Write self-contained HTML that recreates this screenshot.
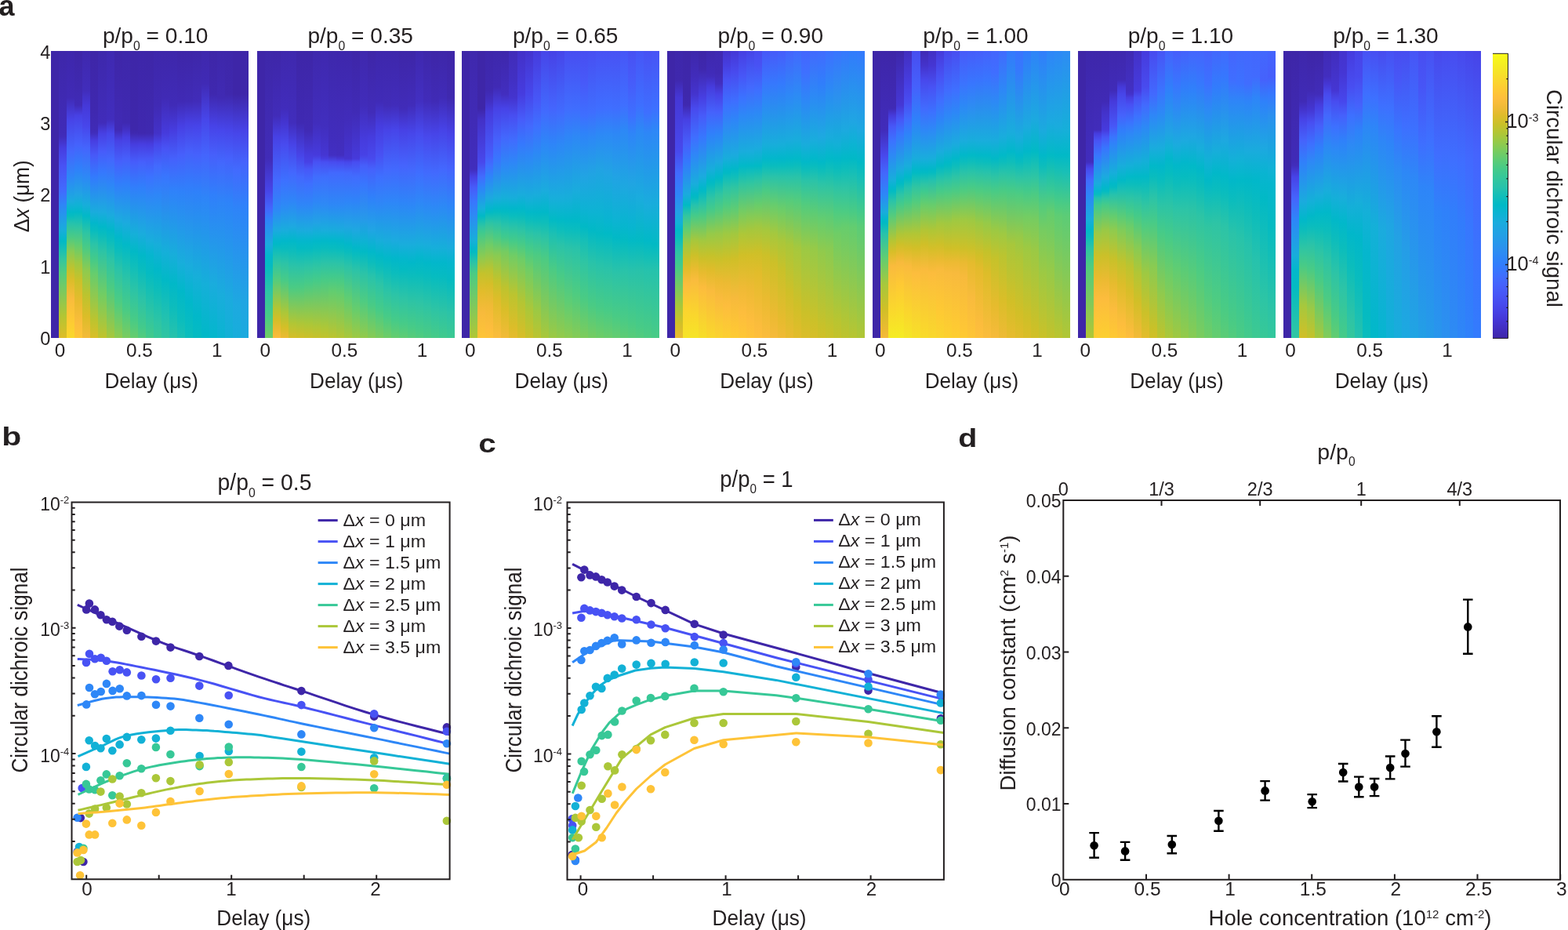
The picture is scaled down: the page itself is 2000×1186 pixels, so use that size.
<!DOCTYPE html>
<html><head><meta charset="utf-8"><title>Figure</title>
<style>
html,body{margin:0;padding:0;background:#fff;}
body{width:2000px;height:1186px;overflow:hidden;}
svg{display:block;}
svg text{font-family:'Liberation Sans', Arial, Helvetica, sans-serif;fill:#231f20;}
</style></head><body>
<svg width="2000" height="1186" viewBox="0 0 2000 1186">
<rect width="2000" height="1186" fill="#fff"/>
<defs><linearGradient id="g1" x1="0" y1="0" x2="0" y2="1"><stop offset="0.000" stop-color="#3e27aa"/><stop offset="0.287" stop-color="#402bb8"/><stop offset="0.300" stop-color="#412dbc"/><stop offset="0.338" stop-color="#463de0"/><stop offset="0.400" stop-color="#4852f4"/><stop offset="0.488" stop-color="#416bfe"/><stop offset="0.537" stop-color="#2e86f7"/><stop offset="0.625" stop-color="#18addb"/><stop offset="0.662" stop-color="#01b9c7"/><stop offset="0.688" stop-color="#14beb8"/><stop offset="0.725" stop-color="#31c6a0"/><stop offset="0.775" stop-color="#53cc7d"/><stop offset="0.925" stop-color="#b4c533"/><stop offset="0.988" stop-color="#d8be28"/><stop offset="1.000" stop-color="#debd29"/></linearGradient><linearGradient id="g2" x1="0" y1="0" x2="0" y2="1"><stop offset="0.000" stop-color="#3e27ac"/><stop offset="0.162" stop-color="#402ab5"/><stop offset="0.238" stop-color="#4743e7"/><stop offset="0.350" stop-color="#4367fd"/><stop offset="0.438" stop-color="#2e86f7"/><stop offset="0.525" stop-color="#1aacdd"/><stop offset="0.562" stop-color="#01b9c8"/><stop offset="0.575" stop-color="#07bcbf"/><stop offset="0.600" stop-color="#25c2ad"/><stop offset="0.650" stop-color="#4ccb83"/><stop offset="0.700" stop-color="#8acb52"/><stop offset="0.762" stop-color="#c2c22c"/><stop offset="0.800" stop-color="#dcbd29"/><stop offset="0.863" stop-color="#f9bb3d"/><stop offset="0.950" stop-color="#fdcc32"/><stop offset="1.000" stop-color="#f9d82c"/></linearGradient><linearGradient id="g3" x1="0" y1="0" x2="0" y2="1"><stop offset="0.000" stop-color="#3e26a8"/><stop offset="0.125" stop-color="#3f29b0"/><stop offset="0.188" stop-color="#402bb7"/><stop offset="0.225" stop-color="#4741e5"/><stop offset="0.325" stop-color="#4562fc"/><stop offset="0.412" stop-color="#2f81fa"/><stop offset="0.500" stop-color="#21a4e3"/><stop offset="0.537" stop-color="#10b2d5"/><stop offset="0.562" stop-color="#01b9c7"/><stop offset="0.588" stop-color="#18bfb6"/><stop offset="0.613" stop-color="#2ec5a4"/><stop offset="0.675" stop-color="#60cd72"/><stop offset="0.738" stop-color="#9ec942"/><stop offset="0.800" stop-color="#cac129"/><stop offset="0.875" stop-color="#e8bb2e"/><stop offset="0.950" stop-color="#fcbd3d"/><stop offset="1.000" stop-color="#fec636"/></linearGradient><linearGradient id="g4" x1="0" y1="0" x2="0" y2="1"><stop offset="0.000" stop-color="#3f28ae"/><stop offset="0.137" stop-color="#412dbb"/><stop offset="0.188" stop-color="#4538d8"/><stop offset="0.262" stop-color="#4746eb"/><stop offset="0.338" stop-color="#4465fd"/><stop offset="0.438" stop-color="#2d88f6"/><stop offset="0.537" stop-color="#17aeda"/><stop offset="0.575" stop-color="#01b9c7"/><stop offset="0.600" stop-color="#13beb8"/><stop offset="0.637" stop-color="#2fc5a2"/><stop offset="0.688" stop-color="#4bcb83"/><stop offset="0.762" stop-color="#8bcb51"/><stop offset="0.850" stop-color="#bbc42f"/><stop offset="0.925" stop-color="#dbbd28"/><stop offset="1.000" stop-color="#f4ba3a"/></linearGradient><linearGradient id="g5" x1="0" y1="0" x2="0" y2="1"><stop offset="0.000" stop-color="#3e26a8"/><stop offset="0.200" stop-color="#3f28af"/><stop offset="0.275" stop-color="#402bb6"/><stop offset="0.287" stop-color="#412ebd"/><stop offset="0.312" stop-color="#473ee1"/><stop offset="0.363" stop-color="#4759f8"/><stop offset="0.438" stop-color="#337afd"/><stop offset="0.562" stop-color="#19acdc"/><stop offset="0.600" stop-color="#02b7cb"/><stop offset="0.625" stop-color="#07bcc0"/><stop offset="0.675" stop-color="#2cc4a7"/><stop offset="0.725" stop-color="#43ca8a"/><stop offset="0.775" stop-color="#65cd6e"/><stop offset="0.938" stop-color="#bcc42f"/><stop offset="1.000" stop-color="#d9be28"/></linearGradient><linearGradient id="g6" x1="0" y1="0" x2="0" y2="1"><stop offset="0.000" stop-color="#3e28ac"/><stop offset="0.250" stop-color="#412cba"/><stop offset="0.287" stop-color="#4740e3"/><stop offset="0.350" stop-color="#475cfa"/><stop offset="0.425" stop-color="#3579fd"/><stop offset="0.562" stop-color="#1babde"/><stop offset="0.613" stop-color="#01b8c9"/><stop offset="0.637" stop-color="#08bcbf"/><stop offset="0.700" stop-color="#2dc4a5"/><stop offset="0.850" stop-color="#72cd63"/><stop offset="1.000" stop-color="#c1c32c"/></linearGradient><linearGradient id="g7" x1="0" y1="0" x2="0" y2="1"><stop offset="0.000" stop-color="#3f29b1"/><stop offset="0.238" stop-color="#412dbd"/><stop offset="0.287" stop-color="#4746ea"/><stop offset="0.375" stop-color="#4367fd"/><stop offset="0.463" stop-color="#2e85f8"/><stop offset="0.575" stop-color="#1aacdd"/><stop offset="0.625" stop-color="#01b8c9"/><stop offset="0.662" stop-color="#0bbdbd"/><stop offset="0.725" stop-color="#2cc4a7"/><stop offset="0.825" stop-color="#4ccb82"/><stop offset="1.000" stop-color="#a7c73c"/></linearGradient><linearGradient id="g8" x1="0" y1="0" x2="0" y2="1"><stop offset="0.000" stop-color="#3e26a8"/><stop offset="0.275" stop-color="#402ab5"/><stop offset="0.312" stop-color="#4741e4"/><stop offset="0.387" stop-color="#4561fc"/><stop offset="0.463" stop-color="#317efb"/><stop offset="0.588" stop-color="#1caadf"/><stop offset="0.650" stop-color="#01b8ca"/><stop offset="0.688" stop-color="#08bcbf"/><stop offset="0.762" stop-color="#2bc3a8"/><stop offset="0.875" stop-color="#4dcc82"/><stop offset="1.000" stop-color="#8fcb4e"/></linearGradient><linearGradient id="g9" x1="0" y1="0" x2="0" y2="1"><stop offset="0.000" stop-color="#3e27aa"/><stop offset="0.250" stop-color="#3f29b1"/><stop offset="0.275" stop-color="#4331c6"/><stop offset="0.300" stop-color="#473ee2"/><stop offset="0.375" stop-color="#465ffb"/><stop offset="0.463" stop-color="#307ffb"/><stop offset="0.600" stop-color="#1babde"/><stop offset="0.675" stop-color="#01b9c8"/><stop offset="0.725" stop-color="#11beba"/><stop offset="0.800" stop-color="#2dc4a5"/><stop offset="0.900" stop-color="#48cb86"/><stop offset="1.000" stop-color="#7acc5e"/></linearGradient><linearGradient id="g10" x1="0" y1="0" x2="0" y2="1"><stop offset="0.000" stop-color="#3e26a8"/><stop offset="0.275" stop-color="#3e27ab"/><stop offset="0.287" stop-color="#3f29b0"/><stop offset="0.325" stop-color="#463ddf"/><stop offset="0.387" stop-color="#465dfb"/><stop offset="0.475" stop-color="#317efb"/><stop offset="0.637" stop-color="#16afd9"/><stop offset="0.700" stop-color="#01b9c6"/><stop offset="0.750" stop-color="#0fbebb"/><stop offset="0.838" stop-color="#2dc4a5"/><stop offset="0.938" stop-color="#48cb86"/><stop offset="1.000" stop-color="#65cd6e"/></linearGradient><linearGradient id="g11" x1="0" y1="0" x2="0" y2="1"><stop offset="0.000" stop-color="#3e26a9"/><stop offset="0.287" stop-color="#3f28af"/><stop offset="0.325" stop-color="#473ee1"/><stop offset="0.387" stop-color="#4660fc"/><stop offset="0.475" stop-color="#307ffb"/><stop offset="0.637" stop-color="#1aacdd"/><stop offset="0.713" stop-color="#01b8c8"/><stop offset="0.762" stop-color="#09bcbe"/><stop offset="0.863" stop-color="#2bc3a8"/><stop offset="0.963" stop-color="#43ca8b"/><stop offset="1.000" stop-color="#53cc7d"/></linearGradient><linearGradient id="g12" x1="0" y1="0" x2="0" y2="1"><stop offset="0.000" stop-color="#3e26a8"/><stop offset="0.287" stop-color="#3f29b0"/><stop offset="0.325" stop-color="#463de0"/><stop offset="0.375" stop-color="#4759f8"/><stop offset="0.438" stop-color="#3b72ff"/><stop offset="0.512" stop-color="#2d88f6"/><stop offset="0.662" stop-color="#18aedb"/><stop offset="0.713" stop-color="#05b6ce"/><stop offset="0.775" stop-color="#04bbc2"/><stop offset="0.925" stop-color="#30c5a1"/><stop offset="1.000" stop-color="#42ca8b"/></linearGradient><linearGradient id="g13" x1="0" y1="0" x2="0" y2="1"><stop offset="0.000" stop-color="#3e27ab"/><stop offset="0.188" stop-color="#402ab4"/><stop offset="0.287" stop-color="#4332c8"/><stop offset="0.325" stop-color="#4747eb"/><stop offset="0.400" stop-color="#426afe"/><stop offset="0.500" stop-color="#2e86f8"/><stop offset="0.675" stop-color="#17aeda"/><stop offset="0.762" stop-color="#01b8c9"/><stop offset="0.825" stop-color="#0bbdbc"/><stop offset="0.950" stop-color="#2fc5a3"/><stop offset="1.000" stop-color="#37c897"/></linearGradient><linearGradient id="g14" x1="0" y1="0" x2="0" y2="1"><stop offset="0.000" stop-color="#3e27aa"/><stop offset="0.162" stop-color="#402ab5"/><stop offset="0.287" stop-color="#463bdd"/><stop offset="0.338" stop-color="#4853f5"/><stop offset="0.438" stop-color="#3876fe"/><stop offset="0.700" stop-color="#15afd9"/><stop offset="0.800" stop-color="#01b9c6"/><stop offset="0.925" stop-color="#21c1b0"/><stop offset="1.000" stop-color="#30c5a1"/></linearGradient><linearGradient id="g15" x1="0" y1="0" x2="0" y2="1"><stop offset="0.000" stop-color="#3e27ab"/><stop offset="0.188" stop-color="#402bb7"/><stop offset="0.275" stop-color="#463cdf"/><stop offset="0.375" stop-color="#4561fc"/><stop offset="0.488" stop-color="#2f82fa"/><stop offset="0.713" stop-color="#17aeda"/><stop offset="0.812" stop-color="#01b8c8"/><stop offset="0.900" stop-color="#0ebdbb"/><stop offset="1.000" stop-color="#28c2ab"/></linearGradient><linearGradient id="g16" x1="0" y1="0" x2="0" y2="1"><stop offset="0.000" stop-color="#3e26a8"/><stop offset="0.175" stop-color="#402ab5"/><stop offset="0.262" stop-color="#4740e4"/><stop offset="0.363" stop-color="#4660fc"/><stop offset="0.488" stop-color="#2f81fa"/><stop offset="0.738" stop-color="#18aedb"/><stop offset="0.838" stop-color="#01b8c9"/><stop offset="0.938" stop-color="#0bbdbd"/><stop offset="1.000" stop-color="#1bc0b4"/></linearGradient><linearGradient id="g17" x1="0" y1="0" x2="0" y2="1"><stop offset="0.000" stop-color="#3e26a8"/><stop offset="0.175" stop-color="#402bb6"/><stop offset="0.250" stop-color="#4740e3"/><stop offset="0.350" stop-color="#4660fb"/><stop offset="0.475" stop-color="#317efb"/><stop offset="0.750" stop-color="#19addc"/><stop offset="0.875" stop-color="#01b8ca"/><stop offset="0.988" stop-color="#0abdbd"/><stop offset="1.000" stop-color="#0dbdbc"/></linearGradient><linearGradient id="g18" x1="0" y1="0" x2="0" y2="1"><stop offset="0.000" stop-color="#3e27a9"/><stop offset="0.175" stop-color="#412cb9"/><stop offset="0.262" stop-color="#4744e9"/><stop offset="0.363" stop-color="#4562fc"/><stop offset="0.488" stop-color="#2f80fa"/><stop offset="0.787" stop-color="#16afd9"/><stop offset="0.925" stop-color="#01b8c9"/><stop offset="1.000" stop-color="#05bbc1"/></linearGradient><linearGradient id="g19" x1="0" y1="0" x2="0" y2="1"><stop offset="0.000" stop-color="#3f28ad"/><stop offset="0.113" stop-color="#402ab5"/><stop offset="0.238" stop-color="#4746ea"/><stop offset="0.363" stop-color="#4465fd"/><stop offset="0.512" stop-color="#2e85f8"/><stop offset="0.812" stop-color="#15afd9"/><stop offset="0.988" stop-color="#01b8c8"/><stop offset="1.000" stop-color="#01b9c7"/></linearGradient><linearGradient id="g20" x1="0" y1="0" x2="0" y2="1"><stop offset="0.000" stop-color="#3e26a8"/><stop offset="0.150" stop-color="#3f28af"/><stop offset="0.262" stop-color="#4743e8"/><stop offset="0.363" stop-color="#4660fb"/><stop offset="0.500" stop-color="#307ffb"/><stop offset="0.812" stop-color="#1aacdd"/><stop offset="1.000" stop-color="#03b7cc"/></linearGradient><linearGradient id="g21" x1="0" y1="0" x2="0" y2="1"><stop offset="0.000" stop-color="#3e27aa"/><stop offset="0.162" stop-color="#402ab3"/><stop offset="0.275" stop-color="#4746eb"/><stop offset="0.387" stop-color="#4367fd"/><stop offset="0.525" stop-color="#2e84f8"/><stop offset="0.850" stop-color="#19addc"/><stop offset="1.000" stop-color="#0ab4d1"/></linearGradient><linearGradient id="g22" x1="0" y1="0" x2="0" y2="1"><stop offset="0.000" stop-color="#3e27aa"/><stop offset="0.150" stop-color="#3f28ad"/><stop offset="0.275" stop-color="#4745e9"/><stop offset="0.375" stop-color="#4562fc"/><stop offset="0.525" stop-color="#2e83f9"/><stop offset="0.863" stop-color="#1babde"/><stop offset="1.000" stop-color="#12b1d6"/></linearGradient><linearGradient id="g23" x1="0" y1="0" x2="0" y2="1"><stop offset="0.000" stop-color="#3e26a8"/><stop offset="0.150" stop-color="#3e26a8"/><stop offset="0.287" stop-color="#4746ea"/><stop offset="0.412" stop-color="#426afe"/><stop offset="0.550" stop-color="#2e84f8"/><stop offset="0.887" stop-color="#1da9e0"/><stop offset="1.000" stop-color="#17aedb"/></linearGradient><linearGradient id="g24" x1="0" y1="0" x2="0" y2="1"><stop offset="0.000" stop-color="#3e26a8"/><stop offset="0.150" stop-color="#3e27aa"/><stop offset="0.275" stop-color="#4742e6"/><stop offset="0.387" stop-color="#4563fc"/><stop offset="0.537" stop-color="#2f81fa"/><stop offset="0.875" stop-color="#20a5e2"/><stop offset="1.000" stop-color="#1baade"/></linearGradient><linearGradient id="g25" x1="0" y1="0" x2="0" y2="1"><stop offset="0.000" stop-color="#3e27a9"/><stop offset="0.375" stop-color="#412cb8"/><stop offset="0.488" stop-color="#4745e9"/><stop offset="0.550" stop-color="#4366fd"/><stop offset="0.588" stop-color="#2f82f9"/><stop offset="0.675" stop-color="#1aacdd"/><stop offset="0.713" stop-color="#03b7cc"/><stop offset="0.750" stop-color="#05bbc1"/><stop offset="0.838" stop-color="#2dc4a6"/><stop offset="0.925" stop-color="#48cb86"/><stop offset="1.000" stop-color="#72cd64"/></linearGradient><linearGradient id="g26" x1="0" y1="0" x2="0" y2="1"><stop offset="0.000" stop-color="#3e26a8"/><stop offset="0.225" stop-color="#412cb9"/><stop offset="0.300" stop-color="#4741e5"/><stop offset="0.450" stop-color="#4369fe"/><stop offset="0.550" stop-color="#2e87f7"/><stop offset="0.625" stop-color="#1baadf"/><stop offset="0.662" stop-color="#03b7cc"/><stop offset="0.675" stop-color="#01b9c6"/><stop offset="0.738" stop-color="#2ec5a4"/><stop offset="0.800" stop-color="#56cc7b"/><stop offset="0.900" stop-color="#b5c533"/><stop offset="0.938" stop-color="#d4be28"/><stop offset="0.975" stop-color="#eeba34"/><stop offset="1.000" stop-color="#fbbc3d"/></linearGradient><linearGradient id="g27" x1="0" y1="0" x2="0" y2="1"><stop offset="0.000" stop-color="#3f28ad"/><stop offset="0.200" stop-color="#412cbb"/><stop offset="0.250" stop-color="#4435d1"/><stop offset="0.325" stop-color="#484bef"/><stop offset="0.450" stop-color="#3d70ff"/><stop offset="0.537" stop-color="#2d89f6"/><stop offset="0.625" stop-color="#19addc"/><stop offset="0.662" stop-color="#01b8ca"/><stop offset="0.688" stop-color="#08bcbf"/><stop offset="0.738" stop-color="#2bc3a8"/><stop offset="0.800" stop-color="#48cb87"/><stop offset="0.912" stop-color="#abc739"/><stop offset="0.963" stop-color="#d4bf27"/><stop offset="1.000" stop-color="#ecba33"/></linearGradient><linearGradient id="g28" x1="0" y1="0" x2="0" y2="1"><stop offset="0.000" stop-color="#3f28ae"/><stop offset="0.250" stop-color="#412dbc"/><stop offset="0.325" stop-color="#4743e7"/><stop offset="0.425" stop-color="#4368fe"/><stop offset="0.525" stop-color="#2e86f7"/><stop offset="0.613" stop-color="#1da9e0"/><stop offset="0.662" stop-color="#01b8c9"/><stop offset="0.700" stop-color="#0ebdbb"/><stop offset="0.750" stop-color="#2bc3a8"/><stop offset="0.825" stop-color="#4acb84"/><stop offset="0.950" stop-color="#b1c635"/><stop offset="1.000" stop-color="#d5be28"/></linearGradient><linearGradient id="g29" x1="0" y1="0" x2="0" y2="1"><stop offset="0.000" stop-color="#3e26a8"/><stop offset="0.250" stop-color="#3f29b2"/><stop offset="0.363" stop-color="#4744e8"/><stop offset="0.438" stop-color="#4368fe"/><stop offset="0.537" stop-color="#2e86f7"/><stop offset="0.625" stop-color="#1aabdd"/><stop offset="0.662" stop-color="#03b7cc"/><stop offset="0.688" stop-color="#03bbc2"/><stop offset="0.750" stop-color="#2ac3a9"/><stop offset="0.825" stop-color="#4bcb83"/><stop offset="0.950" stop-color="#adc638"/><stop offset="1.000" stop-color="#d1bf27"/></linearGradient><linearGradient id="g30" x1="0" y1="0" x2="0" y2="1"><stop offset="0.000" stop-color="#3e26a8"/><stop offset="0.275" stop-color="#402ab4"/><stop offset="0.363" stop-color="#463cde"/><stop offset="0.387" stop-color="#4742e6"/><stop offset="0.412" stop-color="#4758f8"/><stop offset="0.463" stop-color="#3e6fff"/><stop offset="0.537" stop-color="#2e86f7"/><stop offset="0.625" stop-color="#1babde"/><stop offset="0.662" stop-color="#03b7cc"/><stop offset="0.688" stop-color="#04bbc2"/><stop offset="0.750" stop-color="#2cc4a7"/><stop offset="0.812" stop-color="#48cb86"/><stop offset="0.950" stop-color="#aac739"/><stop offset="1.000" stop-color="#ccc028"/></linearGradient><linearGradient id="g31" x1="0" y1="0" x2="0" y2="1"><stop offset="0.000" stop-color="#3f28ad"/><stop offset="0.250" stop-color="#412dbc"/><stop offset="0.363" stop-color="#463bdd"/><stop offset="0.387" stop-color="#4852f4"/><stop offset="0.438" stop-color="#406dfe"/><stop offset="0.525" stop-color="#2e86f7"/><stop offset="0.600" stop-color="#21a3e4"/><stop offset="0.637" stop-color="#11b1d6"/><stop offset="0.662" stop-color="#01b8ca"/><stop offset="0.688" stop-color="#07bcc0"/><stop offset="0.750" stop-color="#2ec5a4"/><stop offset="0.800" stop-color="#45cb89"/><stop offset="0.963" stop-color="#b0c636"/><stop offset="1.000" stop-color="#c7c12a"/></linearGradient><linearGradient id="g32" x1="0" y1="0" x2="0" y2="1"><stop offset="0.000" stop-color="#3f28af"/><stop offset="0.262" stop-color="#412ebe"/><stop offset="0.363" stop-color="#4536d3"/><stop offset="0.375" stop-color="#463de0"/><stop offset="0.387" stop-color="#484ff2"/><stop offset="0.438" stop-color="#3f6efe"/><stop offset="0.537" stop-color="#2d8af5"/><stop offset="0.625" stop-color="#19addc"/><stop offset="0.662" stop-color="#01b8c9"/><stop offset="0.688" stop-color="#09bcbe"/><stop offset="0.738" stop-color="#2bc3a8"/><stop offset="0.800" stop-color="#49cb85"/><stop offset="0.963" stop-color="#acc738"/><stop offset="1.000" stop-color="#c1c32c"/></linearGradient><linearGradient id="g33" x1="0" y1="0" x2="0" y2="1"><stop offset="0.000" stop-color="#3e28ac"/><stop offset="0.312" stop-color="#412dbd"/><stop offset="0.363" stop-color="#422fc2"/><stop offset="0.387" stop-color="#484cef"/><stop offset="0.425" stop-color="#4269fe"/><stop offset="0.537" stop-color="#2d88f6"/><stop offset="0.625" stop-color="#19acdc"/><stop offset="0.662" stop-color="#01b8ca"/><stop offset="0.688" stop-color="#08bcbf"/><stop offset="0.738" stop-color="#2bc3a8"/><stop offset="0.787" stop-color="#42ca8c"/><stop offset="0.838" stop-color="#62cd70"/><stop offset="1.000" stop-color="#bcc42f"/></linearGradient><linearGradient id="g34" x1="0" y1="0" x2="0" y2="1"><stop offset="0.000" stop-color="#3e27ac"/><stop offset="0.363" stop-color="#422ebf"/><stop offset="0.375" stop-color="#4537d5"/><stop offset="0.387" stop-color="#484aee"/><stop offset="0.425" stop-color="#4269fe"/><stop offset="0.537" stop-color="#2d88f6"/><stop offset="0.625" stop-color="#1aabdd"/><stop offset="0.662" stop-color="#02b7cb"/><stop offset="0.688" stop-color="#06bcc0"/><stop offset="0.738" stop-color="#2ac3a9"/><stop offset="0.800" stop-color="#49cb85"/><stop offset="0.850" stop-color="#66cd6d"/><stop offset="1.000" stop-color="#b4c533"/></linearGradient><linearGradient id="g35" x1="0" y1="0" x2="0" y2="1"><stop offset="0.000" stop-color="#3e27ab"/><stop offset="0.238" stop-color="#412cba"/><stop offset="0.375" stop-color="#4434cf"/><stop offset="0.387" stop-color="#4747eb"/><stop offset="0.425" stop-color="#4368fd"/><stop offset="0.525" stop-color="#2e85f8"/><stop offset="0.613" stop-color="#20a5e2"/><stop offset="0.675" stop-color="#01b8c9"/><stop offset="0.700" stop-color="#09bcbe"/><stop offset="0.750" stop-color="#2bc3a8"/><stop offset="0.863" stop-color="#60cd72"/><stop offset="1.000" stop-color="#a9c73a"/></linearGradient><linearGradient id="g36" x1="0" y1="0" x2="0" y2="1"><stop offset="0.000" stop-color="#3e26a8"/><stop offset="0.213" stop-color="#402bb6"/><stop offset="0.375" stop-color="#463adb"/><stop offset="0.387" stop-color="#484df1"/><stop offset="0.438" stop-color="#416cfe"/><stop offset="0.525" stop-color="#2e84f8"/><stop offset="0.625" stop-color="#1ea8e0"/><stop offset="0.688" stop-color="#01b8c8"/><stop offset="0.713" stop-color="#0abdbd"/><stop offset="0.762" stop-color="#2bc3a8"/><stop offset="0.900" stop-color="#66cd6d"/><stop offset="1.000" stop-color="#9ec942"/></linearGradient><linearGradient id="g37" x1="0" y1="0" x2="0" y2="1"><stop offset="0.000" stop-color="#3f28ae"/><stop offset="0.188" stop-color="#412cba"/><stop offset="0.312" stop-color="#463cde"/><stop offset="0.363" stop-color="#4742e6"/><stop offset="0.400" stop-color="#465ffb"/><stop offset="0.463" stop-color="#3876fe"/><stop offset="0.588" stop-color="#269ae9"/><stop offset="0.662" stop-color="#0eb2d4"/><stop offset="0.700" stop-color="#01bac5"/><stop offset="0.775" stop-color="#2bc3a8"/><stop offset="0.875" stop-color="#4fcc81"/><stop offset="1.000" stop-color="#93ca4b"/></linearGradient><linearGradient id="g38" x1="0" y1="0" x2="0" y2="1"><stop offset="0.000" stop-color="#3e26a8"/><stop offset="0.213" stop-color="#412cb9"/><stop offset="0.300" stop-color="#463cde"/><stop offset="0.375" stop-color="#4849ed"/><stop offset="0.412" stop-color="#4562fc"/><stop offset="0.512" stop-color="#2f81fa"/><stop offset="0.625" stop-color="#20a5e3"/><stop offset="0.700" stop-color="#01b8ca"/><stop offset="0.738" stop-color="#0cbdbc"/><stop offset="0.787" stop-color="#29c3aa"/><stop offset="0.887" stop-color="#49cb85"/><stop offset="1.000" stop-color="#87cb54"/></linearGradient><linearGradient id="g39" x1="0" y1="0" x2="0" y2="1"><stop offset="0.000" stop-color="#3e27ac"/><stop offset="0.175" stop-color="#402bb7"/><stop offset="0.262" stop-color="#463de0"/><stop offset="0.363" stop-color="#4851f3"/><stop offset="0.438" stop-color="#3e6fff"/><stop offset="0.537" stop-color="#2d88f6"/><stop offset="0.662" stop-color="#17aeda"/><stop offset="0.713" stop-color="#01b8c8"/><stop offset="0.750" stop-color="#0bbdbc"/><stop offset="0.812" stop-color="#2cc4a7"/><stop offset="0.900" stop-color="#45cb89"/><stop offset="1.000" stop-color="#7bcc5d"/></linearGradient><linearGradient id="g40" x1="0" y1="0" x2="0" y2="1"><stop offset="0.000" stop-color="#3e27ac"/><stop offset="0.188" stop-color="#412cb8"/><stop offset="0.275" stop-color="#4743e7"/><stop offset="0.412" stop-color="#4369fe"/><stop offset="0.525" stop-color="#2e86f8"/><stop offset="0.662" stop-color="#19acdc"/><stop offset="0.725" stop-color="#01b9c8"/><stop offset="0.775" stop-color="#11beb9"/><stop offset="0.838" stop-color="#2cc4a6"/><stop offset="0.925" stop-color="#47cb87"/><stop offset="1.000" stop-color="#6fcd66"/></linearGradient><linearGradient id="g41" x1="0" y1="0" x2="0" y2="1"><stop offset="0.000" stop-color="#3e27ab"/><stop offset="0.188" stop-color="#412cba"/><stop offset="0.275" stop-color="#4745e9"/><stop offset="0.412" stop-color="#4269fe"/><stop offset="0.525" stop-color="#2e86f8"/><stop offset="0.662" stop-color="#1babde"/><stop offset="0.725" stop-color="#01b7ca"/><stop offset="0.775" stop-color="#0bbdbd"/><stop offset="0.850" stop-color="#2cc4a7"/><stop offset="0.938" stop-color="#45cb89"/><stop offset="1.000" stop-color="#65cd6e"/></linearGradient><linearGradient id="g42" x1="0" y1="0" x2="0" y2="1"><stop offset="0.000" stop-color="#3e26a8"/><stop offset="0.200" stop-color="#412cb9"/><stop offset="0.275" stop-color="#4741e5"/><stop offset="0.400" stop-color="#4564fd"/><stop offset="0.525" stop-color="#2e84f8"/><stop offset="0.675" stop-color="#19addc"/><stop offset="0.725" stop-color="#03b7cc"/><stop offset="0.762" stop-color="#04bbc2"/><stop offset="0.863" stop-color="#2dc4a6"/><stop offset="0.950" stop-color="#46cb88"/><stop offset="1.000" stop-color="#5fcd73"/></linearGradient><linearGradient id="g43" x1="0" y1="0" x2="0" y2="1"><stop offset="0.000" stop-color="#3e26a8"/><stop offset="0.188" stop-color="#412cba"/><stop offset="0.287" stop-color="#4746ea"/><stop offset="0.412" stop-color="#4368fd"/><stop offset="0.537" stop-color="#2d87f7"/><stop offset="0.675" stop-color="#19addc"/><stop offset="0.738" stop-color="#01b8c9"/><stop offset="0.787" stop-color="#0cbdbc"/><stop offset="0.875" stop-color="#2ec4a4"/><stop offset="0.963" stop-color="#47cb87"/><stop offset="1.000" stop-color="#58cc79"/></linearGradient><linearGradient id="g44" x1="0" y1="0" x2="0" y2="1"><stop offset="0.000" stop-color="#3f28af"/><stop offset="0.175" stop-color="#422fc1"/><stop offset="0.287" stop-color="#484aee"/><stop offset="0.425" stop-color="#3f6eff"/><stop offset="0.525" stop-color="#2e87f7"/><stop offset="0.675" stop-color="#18aedb"/><stop offset="0.725" stop-color="#02b7cb"/><stop offset="0.775" stop-color="#07bcbf"/><stop offset="0.875" stop-color="#2dc4a6"/><stop offset="0.975" stop-color="#47cb87"/><stop offset="1.000" stop-color="#52cc7e"/></linearGradient><linearGradient id="g45" x1="0" y1="0" x2="0" y2="1"><stop offset="0.000" stop-color="#3e27aa"/><stop offset="0.175" stop-color="#412cba"/><stop offset="0.300" stop-color="#4849ed"/><stop offset="0.425" stop-color="#416bfe"/><stop offset="0.537" stop-color="#2d88f6"/><stop offset="0.675" stop-color="#19addc"/><stop offset="0.738" stop-color="#01b8c9"/><stop offset="0.787" stop-color="#09bcbe"/><stop offset="0.887" stop-color="#2dc4a5"/><stop offset="1.000" stop-color="#4bcb83"/></linearGradient><linearGradient id="g46" x1="0" y1="0" x2="0" y2="1"><stop offset="0.000" stop-color="#3e26a8"/><stop offset="0.175" stop-color="#402bb6"/><stop offset="0.287" stop-color="#4744e8"/><stop offset="0.425" stop-color="#426afe"/><stop offset="0.537" stop-color="#2e87f7"/><stop offset="0.688" stop-color="#16afda"/><stop offset="0.738" stop-color="#02b7cb"/><stop offset="0.787" stop-color="#06bcc0"/><stop offset="0.900" stop-color="#2dc4a5"/><stop offset="1.000" stop-color="#46cb88"/></linearGradient><linearGradient id="g47" x1="0" y1="0" x2="0" y2="1"><stop offset="0.000" stop-color="#3e27a9"/><stop offset="0.162" stop-color="#402bb7"/><stop offset="0.275" stop-color="#4743e7"/><stop offset="0.412" stop-color="#4368fe"/><stop offset="0.537" stop-color="#2d88f6"/><stop offset="0.688" stop-color="#16afd9"/><stop offset="0.738" stop-color="#02b7cb"/><stop offset="0.787" stop-color="#06bbc1"/><stop offset="0.912" stop-color="#2ec4a4"/><stop offset="1.000" stop-color="#40ca8d"/></linearGradient><linearGradient id="g48" x1="0" y1="0" x2="0" y2="1"><stop offset="0.000" stop-color="#3e26a8"/><stop offset="0.162" stop-color="#3f29af"/><stop offset="0.287" stop-color="#4742e6"/><stop offset="0.412" stop-color="#4464fd"/><stop offset="0.537" stop-color="#2e85f8"/><stop offset="0.688" stop-color="#19addb"/><stop offset="0.738" stop-color="#05b6cd"/><stop offset="0.800" stop-color="#05bbc1"/><stop offset="0.912" stop-color="#2bc3a8"/><stop offset="1.000" stop-color="#3cc992"/></linearGradient><linearGradient id="g49" x1="0" y1="0" x2="0" y2="1"><stop offset="0.000" stop-color="#3f28ad"/><stop offset="0.412" stop-color="#412dbc"/><stop offset="0.438" stop-color="#473fe3"/><stop offset="0.475" stop-color="#475bf9"/><stop offset="0.525" stop-color="#3876fe"/><stop offset="0.575" stop-color="#2d8af4"/><stop offset="0.662" stop-color="#16afd9"/><stop offset="0.688" stop-color="#04b6cc"/><stop offset="0.700" stop-color="#02bac4"/><stop offset="0.738" stop-color="#2bc3a7"/><stop offset="0.775" stop-color="#4acb85"/><stop offset="1.000" stop-color="#b1c636"/></linearGradient><linearGradient id="g50" x1="0" y1="0" x2="0" y2="1"><stop offset="0.000" stop-color="#3e26a8"/><stop offset="0.200" stop-color="#3e26a8"/><stop offset="0.238" stop-color="#4331c7"/><stop offset="0.387" stop-color="#4848ec"/><stop offset="0.438" stop-color="#416cfe"/><stop offset="0.475" stop-color="#2e84f9"/><stop offset="0.550" stop-color="#16afda"/><stop offset="0.575" stop-color="#01b9c6"/><stop offset="0.613" stop-color="#30c5a1"/><stop offset="0.637" stop-color="#42ca8b"/><stop offset="0.713" stop-color="#87cb54"/><stop offset="0.775" stop-color="#c4c22b"/><stop offset="0.838" stop-color="#e2bc2b"/><stop offset="0.912" stop-color="#f7ba3c"/><stop offset="1.000" stop-color="#fec438"/></linearGradient><linearGradient id="g51" x1="0" y1="0" x2="0" y2="1"><stop offset="0.000" stop-color="#3e27ab"/><stop offset="0.137" stop-color="#3f29b1"/><stop offset="0.175" stop-color="#4230c3"/><stop offset="0.213" stop-color="#463cde"/><stop offset="0.363" stop-color="#475cfa"/><stop offset="0.400" stop-color="#3f6fff"/><stop offset="0.438" stop-color="#2e84f9"/><stop offset="0.512" stop-color="#1da8e0"/><stop offset="0.550" stop-color="#04b6cd"/><stop offset="0.562" stop-color="#02bac4"/><stop offset="0.600" stop-color="#2ec4a4"/><stop offset="0.675" stop-color="#6ecd67"/><stop offset="0.762" stop-color="#bac430"/><stop offset="0.812" stop-color="#d6be28"/><stop offset="0.887" stop-color="#f0ba36"/><stop offset="0.963" stop-color="#fdbd3d"/><stop offset="1.000" stop-color="#fec239"/></linearGradient><linearGradient id="g52" x1="0" y1="0" x2="0" y2="1"><stop offset="0.000" stop-color="#3e28ac"/><stop offset="0.125" stop-color="#402ab5"/><stop offset="0.200" stop-color="#4742e6"/><stop offset="0.312" stop-color="#4562fc"/><stop offset="0.375" stop-color="#3975fe"/><stop offset="0.512" stop-color="#19addc"/><stop offset="0.550" stop-color="#01b8c9"/><stop offset="0.562" stop-color="#05bbc1"/><stop offset="0.600" stop-color="#2bc3a8"/><stop offset="0.650" stop-color="#4ccb83"/><stop offset="0.713" stop-color="#89cb52"/><stop offset="0.800" stop-color="#c1c32c"/><stop offset="0.863" stop-color="#ddbd29"/><stop offset="1.000" stop-color="#fbbc3d"/></linearGradient><linearGradient id="g53" x1="0" y1="0" x2="0" y2="1"><stop offset="0.000" stop-color="#3e27ab"/><stop offset="0.150" stop-color="#422ebf"/><stop offset="0.200" stop-color="#4743e8"/><stop offset="0.300" stop-color="#4367fd"/><stop offset="0.400" stop-color="#2d88f6"/><stop offset="0.512" stop-color="#16afd9"/><stop offset="0.550" stop-color="#01b8c9"/><stop offset="0.562" stop-color="#03bbc2"/><stop offset="0.613" stop-color="#2dc4a6"/><stop offset="0.650" stop-color="#41ca8c"/><stop offset="0.700" stop-color="#75cc61"/><stop offset="0.825" stop-color="#bec32e"/><stop offset="0.900" stop-color="#d9be28"/><stop offset="1.000" stop-color="#f2ba37"/></linearGradient><linearGradient id="g54" x1="0" y1="0" x2="0" y2="1"><stop offset="0.000" stop-color="#412cb9"/><stop offset="0.100" stop-color="#4230c3"/><stop offset="0.162" stop-color="#4434ce"/><stop offset="0.225" stop-color="#484ef1"/><stop offset="0.312" stop-color="#406dfe"/><stop offset="0.387" stop-color="#2e86f7"/><stop offset="0.512" stop-color="#17aeda"/><stop offset="0.550" stop-color="#01b7ca"/><stop offset="0.575" stop-color="#09bdbe"/><stop offset="0.613" stop-color="#29c3a9"/><stop offset="0.662" stop-color="#44cb89"/><stop offset="0.713" stop-color="#70cd65"/><stop offset="0.850" stop-color="#bcc42f"/><stop offset="0.963" stop-color="#dcbd29"/><stop offset="1.000" stop-color="#e6bb2d"/></linearGradient><linearGradient id="g55" x1="0" y1="0" x2="0" y2="1"><stop offset="0.000" stop-color="#4331c8"/><stop offset="0.150" stop-color="#463cdf"/><stop offset="0.238" stop-color="#475cfa"/><stop offset="0.325" stop-color="#3579fd"/><stop offset="0.500" stop-color="#19acdc"/><stop offset="0.550" stop-color="#01b8ca"/><stop offset="0.575" stop-color="#09bcbe"/><stop offset="0.625" stop-color="#2dc4a5"/><stop offset="0.675" stop-color="#48cb86"/><stop offset="0.725" stop-color="#6dcd67"/><stop offset="0.875" stop-color="#b4c533"/><stop offset="0.988" stop-color="#d5be28"/><stop offset="1.000" stop-color="#d9be28"/></linearGradient><linearGradient id="g56" x1="0" y1="0" x2="0" y2="1"><stop offset="0.000" stop-color="#4434cf"/><stop offset="0.150" stop-color="#4747eb"/><stop offset="0.262" stop-color="#4369fe"/><stop offset="0.363" stop-color="#2e86f7"/><stop offset="0.512" stop-color="#17aeda"/><stop offset="0.562" stop-color="#01b9c8"/><stop offset="0.588" stop-color="#0bbdbd"/><stop offset="0.637" stop-color="#2dc4a5"/><stop offset="0.688" stop-color="#45cb89"/><stop offset="0.762" stop-color="#70cd65"/><stop offset="0.900" stop-color="#abc739"/><stop offset="1.000" stop-color="#cac129"/></linearGradient><linearGradient id="g57" x1="0" y1="0" x2="0" y2="1"><stop offset="0.000" stop-color="#463bdd"/><stop offset="0.175" stop-color="#4758f8"/><stop offset="0.262" stop-color="#3e70ff"/><stop offset="0.350" stop-color="#2d87f6"/><stop offset="0.500" stop-color="#19acdc"/><stop offset="0.562" stop-color="#01b8c8"/><stop offset="0.588" stop-color="#09bcbe"/><stop offset="0.637" stop-color="#2ac3a9"/><stop offset="0.713" stop-color="#4dcb82"/><stop offset="0.900" stop-color="#9ac945"/><stop offset="1.000" stop-color="#bbc430"/></linearGradient><linearGradient id="g58" x1="0" y1="0" x2="0" y2="1"><stop offset="0.000" stop-color="#4745e9"/><stop offset="0.213" stop-color="#416bfe"/><stop offset="0.325" stop-color="#2d87f7"/><stop offset="0.488" stop-color="#1aacdd"/><stop offset="0.562" stop-color="#01b8c8"/><stop offset="0.600" stop-color="#0fbeba"/><stop offset="0.650" stop-color="#2cc4a6"/><stop offset="0.725" stop-color="#4ccb83"/><stop offset="1.000" stop-color="#aac73a"/></linearGradient><linearGradient id="g59" x1="0" y1="0" x2="0" y2="1"><stop offset="0.000" stop-color="#4742e6"/><stop offset="0.200" stop-color="#4465fd"/><stop offset="0.325" stop-color="#2e85f8"/><stop offset="0.512" stop-color="#18aedb"/><stop offset="0.588" stop-color="#01bac5"/><stop offset="0.637" stop-color="#1cc0b3"/><stop offset="0.762" stop-color="#4bcb84"/><stop offset="1.000" stop-color="#9cc944"/></linearGradient><linearGradient id="g60" x1="0" y1="0" x2="0" y2="1"><stop offset="0.000" stop-color="#4746ea"/><stop offset="0.213" stop-color="#416bfe"/><stop offset="0.325" stop-color="#2d88f6"/><stop offset="0.512" stop-color="#18aedb"/><stop offset="0.588" stop-color="#01b9c7"/><stop offset="0.625" stop-color="#0ebebb"/><stop offset="0.675" stop-color="#2ac3a9"/><stop offset="0.787" stop-color="#4acb85"/><stop offset="1.000" stop-color="#94ca4a"/></linearGradient><linearGradient id="g61" x1="0" y1="0" x2="0" y2="1"><stop offset="0.000" stop-color="#484ef1"/><stop offset="0.200" stop-color="#406dfe"/><stop offset="0.300" stop-color="#2e86f7"/><stop offset="0.512" stop-color="#17aeda"/><stop offset="0.588" stop-color="#01b8c8"/><stop offset="0.625" stop-color="#0bbdbd"/><stop offset="0.688" stop-color="#2bc3a8"/><stop offset="0.875" stop-color="#5ecd74"/><stop offset="1.000" stop-color="#8dcb4f"/></linearGradient><linearGradient id="g62" x1="0" y1="0" x2="0" y2="1"><stop offset="0.000" stop-color="#484ef1"/><stop offset="0.200" stop-color="#3f6dfe"/><stop offset="0.300" stop-color="#2d89f5"/><stop offset="0.488" stop-color="#19acdc"/><stop offset="0.588" stop-color="#01b8c8"/><stop offset="0.625" stop-color="#0abdbe"/><stop offset="0.688" stop-color="#29c3aa"/><stop offset="0.850" stop-color="#4fcc80"/><stop offset="1.000" stop-color="#85cb55"/></linearGradient><linearGradient id="g63" x1="0" y1="0" x2="0" y2="1"><stop offset="0.000" stop-color="#484ef1"/><stop offset="0.113" stop-color="#475af9"/><stop offset="0.225" stop-color="#3e6fff"/><stop offset="0.287" stop-color="#2e83f9"/><stop offset="0.438" stop-color="#21a4e3"/><stop offset="0.550" stop-color="#0eb2d4"/><stop offset="0.613" stop-color="#01b9c6"/><stop offset="0.662" stop-color="#16bfb7"/><stop offset="0.738" stop-color="#2fc5a3"/><stop offset="0.863" stop-color="#4acb84"/><stop offset="1.000" stop-color="#7dcc5b"/></linearGradient><linearGradient id="g64" x1="0" y1="0" x2="0" y2="1"><stop offset="0.000" stop-color="#484ff2"/><stop offset="0.213" stop-color="#3f6efe"/><stop offset="0.300" stop-color="#2d88f6"/><stop offset="0.425" stop-color="#21a3e3"/><stop offset="0.562" stop-color="#0db3d3"/><stop offset="0.625" stop-color="#01b9c6"/><stop offset="0.738" stop-color="#29c3a9"/><stop offset="0.887" stop-color="#4acb84"/><stop offset="1.000" stop-color="#75cc61"/></linearGradient><linearGradient id="g65" x1="0" y1="0" x2="0" y2="1"><stop offset="0.000" stop-color="#4852f4"/><stop offset="0.200" stop-color="#3f6eff"/><stop offset="0.287" stop-color="#2d88f6"/><stop offset="0.412" stop-color="#21a3e3"/><stop offset="0.562" stop-color="#0db3d3"/><stop offset="0.637" stop-color="#02bac4"/><stop offset="0.750" stop-color="#29c3a9"/><stop offset="0.900" stop-color="#49cb85"/><stop offset="1.000" stop-color="#6ecd66"/></linearGradient><linearGradient id="g66" x1="0" y1="0" x2="0" y2="1"><stop offset="0.000" stop-color="#4852f4"/><stop offset="0.200" stop-color="#3f6fff"/><stop offset="0.287" stop-color="#2d89f6"/><stop offset="0.425" stop-color="#21a4e3"/><stop offset="0.588" stop-color="#09b4d1"/><stop offset="0.637" stop-color="#01bac6"/><stop offset="0.762" stop-color="#2bc3a8"/><stop offset="0.900" stop-color="#46cb88"/><stop offset="1.000" stop-color="#69cd6b"/></linearGradient><linearGradient id="g67" x1="0" y1="0" x2="0" y2="1"><stop offset="0.000" stop-color="#4852f4"/><stop offset="0.200" stop-color="#3f6efe"/><stop offset="0.287" stop-color="#2d87f6"/><stop offset="0.438" stop-color="#21a3e4"/><stop offset="0.588" stop-color="#0db3d3"/><stop offset="0.650" stop-color="#01b9c6"/><stop offset="0.775" stop-color="#2bc3a8"/><stop offset="0.925" stop-color="#49cb85"/><stop offset="1.000" stop-color="#63cd70"/></linearGradient><linearGradient id="g68" x1="0" y1="0" x2="0" y2="1"><stop offset="0.000" stop-color="#4756f7"/><stop offset="0.188" stop-color="#3f6fff"/><stop offset="0.275" stop-color="#2d88f6"/><stop offset="0.475" stop-color="#1da8e0"/><stop offset="0.613" stop-color="#06b6ce"/><stop offset="0.662" stop-color="#03bbc2"/><stop offset="0.762" stop-color="#28c3aa"/><stop offset="0.938" stop-color="#4acb85"/><stop offset="1.000" stop-color="#5dcc74"/></linearGradient><linearGradient id="g69" x1="0" y1="0" x2="0" y2="1"><stop offset="0.000" stop-color="#4851f3"/><stop offset="0.113" stop-color="#465dfa"/><stop offset="0.225" stop-color="#3d70ff"/><stop offset="0.287" stop-color="#2e85f8"/><stop offset="0.463" stop-color="#20a5e2"/><stop offset="0.613" stop-color="#08b5d0"/><stop offset="0.662" stop-color="#02bac5"/><stop offset="0.762" stop-color="#27c2ac"/><stop offset="0.950" stop-color="#49cb85"/><stop offset="1.000" stop-color="#58cc79"/></linearGradient><linearGradient id="g70" x1="0" y1="0" x2="0" y2="1"><stop offset="0.000" stop-color="#4756f7"/><stop offset="0.188" stop-color="#3e6fff"/><stop offset="0.275" stop-color="#2d88f6"/><stop offset="0.512" stop-color="#1aacdd"/><stop offset="0.662" stop-color="#02bac4"/><stop offset="0.762" stop-color="#27c2ab"/><stop offset="0.963" stop-color="#48cb86"/><stop offset="1.000" stop-color="#53cc7d"/></linearGradient><linearGradient id="g71" x1="0" y1="0" x2="0" y2="1"><stop offset="0.000" stop-color="#4852f4"/><stop offset="0.213" stop-color="#3e6fff"/><stop offset="0.287" stop-color="#2d87f6"/><stop offset="0.537" stop-color="#19addc"/><stop offset="0.662" stop-color="#01b9c7"/><stop offset="0.713" stop-color="#11beb9"/><stop offset="0.762" stop-color="#25c2ad"/><stop offset="0.988" stop-color="#4acb84"/><stop offset="1.000" stop-color="#4dcc82"/></linearGradient><linearGradient id="g72" x1="0" y1="0" x2="0" y2="1"><stop offset="0.000" stop-color="#4854f5"/><stop offset="0.200" stop-color="#3d70ff"/><stop offset="0.275" stop-color="#2e87f7"/><stop offset="0.537" stop-color="#18addb"/><stop offset="0.675" stop-color="#02bac4"/><stop offset="0.762" stop-color="#25c2ad"/><stop offset="1.000" stop-color="#48cb86"/></linearGradient><linearGradient id="g73" x1="0" y1="0" x2="0" y2="1"><stop offset="0.000" stop-color="#3e27ab"/><stop offset="0.100" stop-color="#3f28ad"/><stop offset="0.162" stop-color="#4537d6"/><stop offset="0.350" stop-color="#4849ed"/><stop offset="0.425" stop-color="#416bfe"/><stop offset="0.500" stop-color="#2e85f8"/><stop offset="0.562" stop-color="#23a0e5"/><stop offset="0.600" stop-color="#12b1d7"/><stop offset="0.625" stop-color="#01b8c9"/><stop offset="0.650" stop-color="#09bdbe"/><stop offset="0.700" stop-color="#2dc4a6"/><stop offset="0.750" stop-color="#44cb8a"/><stop offset="0.887" stop-color="#a6c73c"/><stop offset="0.950" stop-color="#d0c028"/><stop offset="1.000" stop-color="#eaba31"/></linearGradient><linearGradient id="g74" x1="0" y1="0" x2="0" y2="1"><stop offset="0.000" stop-color="#3e26a8"/><stop offset="0.150" stop-color="#3e28ac"/><stop offset="0.188" stop-color="#3f29b0"/><stop offset="0.238" stop-color="#4740e3"/><stop offset="0.325" stop-color="#4660fb"/><stop offset="0.387" stop-color="#3479fd"/><stop offset="0.500" stop-color="#1aabdd"/><stop offset="0.537" stop-color="#02bac4"/><stop offset="0.575" stop-color="#32c69f"/><stop offset="0.625" stop-color="#64cd6f"/><stop offset="0.675" stop-color="#a1c840"/><stop offset="0.725" stop-color="#c9c129"/><stop offset="0.762" stop-color="#e2bc2b"/><stop offset="0.812" stop-color="#fbbc3d"/><stop offset="0.900" stop-color="#fbd32e"/><stop offset="1.000" stop-color="#f6e427"/></linearGradient><linearGradient id="g75" x1="0" y1="0" x2="0" y2="1"><stop offset="0.000" stop-color="#3e27ab"/><stop offset="0.088" stop-color="#412cbb"/><stop offset="0.150" stop-color="#4434ce"/><stop offset="0.200" stop-color="#484aee"/><stop offset="0.300" stop-color="#3f6eff"/><stop offset="0.363" stop-color="#2e87f7"/><stop offset="0.463" stop-color="#19addc"/><stop offset="0.500" stop-color="#01b8c8"/><stop offset="0.512" stop-color="#04bbc1"/><stop offset="0.537" stop-color="#26c2ad"/><stop offset="0.575" stop-color="#46cb88"/><stop offset="0.662" stop-color="#a8c73b"/><stop offset="0.713" stop-color="#cdc028"/><stop offset="0.762" stop-color="#eabb30"/><stop offset="0.800" stop-color="#fabc3d"/><stop offset="0.925" stop-color="#fad72c"/><stop offset="1.000" stop-color="#f6e427"/></linearGradient><linearGradient id="g76" x1="0" y1="0" x2="0" y2="1"><stop offset="0.000" stop-color="#3e26a8"/><stop offset="0.062" stop-color="#3f28ae"/><stop offset="0.162" stop-color="#473fe2"/><stop offset="0.225" stop-color="#475bf9"/><stop offset="0.300" stop-color="#3777fe"/><stop offset="0.438" stop-color="#1babde"/><stop offset="0.475" stop-color="#03b7cc"/><stop offset="0.488" stop-color="#02bac5"/><stop offset="0.537" stop-color="#2dc4a5"/><stop offset="0.575" stop-color="#4acb84"/><stop offset="0.662" stop-color="#a3c83f"/><stop offset="0.725" stop-color="#cdc028"/><stop offset="0.775" stop-color="#e8bb2f"/><stop offset="0.825" stop-color="#fcbc3d"/><stop offset="1.000" stop-color="#f7de29"/></linearGradient><linearGradient id="g77" x1="0" y1="0" x2="0" y2="1"><stop offset="0.000" stop-color="#3f28ad"/><stop offset="0.075" stop-color="#402bb8"/><stop offset="0.088" stop-color="#412dbc"/><stop offset="0.125" stop-color="#463cde"/><stop offset="0.213" stop-color="#4562fc"/><stop offset="0.287" stop-color="#3080fb"/><stop offset="0.412" stop-color="#18addb"/><stop offset="0.450" stop-color="#01b8c9"/><stop offset="0.463" stop-color="#03bbc2"/><stop offset="0.512" stop-color="#2ec4a5"/><stop offset="0.550" stop-color="#42ca8c"/><stop offset="0.637" stop-color="#95ca49"/><stop offset="0.713" stop-color="#c5c22a"/><stop offset="0.762" stop-color="#dfbc2a"/><stop offset="0.838" stop-color="#fabb3d"/><stop offset="0.988" stop-color="#fad52d"/><stop offset="1.000" stop-color="#f9d82c"/></linearGradient><linearGradient id="g78" x1="0" y1="0" x2="0" y2="1"><stop offset="0.000" stop-color="#3f29b2"/><stop offset="0.075" stop-color="#402ab4"/><stop offset="0.113" stop-color="#422fc0"/><stop offset="0.150" stop-color="#4742e6"/><stop offset="0.213" stop-color="#4561fc"/><stop offset="0.287" stop-color="#2e83f9"/><stop offset="0.387" stop-color="#1ca9df"/><stop offset="0.438" stop-color="#01b8c9"/><stop offset="0.450" stop-color="#04bbc1"/><stop offset="0.500" stop-color="#30c5a2"/><stop offset="0.550" stop-color="#4ccb83"/><stop offset="0.637" stop-color="#98c947"/><stop offset="0.725" stop-color="#cac129"/><stop offset="0.800" stop-color="#ebba31"/><stop offset="0.863" stop-color="#fabb3d"/><stop offset="1.000" stop-color="#fbd32f"/></linearGradient><linearGradient id="g79" x1="0" y1="0" x2="0" y2="1"><stop offset="0.000" stop-color="#4433cc"/><stop offset="0.050" stop-color="#463ee0"/><stop offset="0.100" stop-color="#4851f4"/><stop offset="0.188" stop-color="#3c71ff"/><stop offset="0.262" stop-color="#2d8af4"/><stop offset="0.375" stop-color="#18addb"/><stop offset="0.412" stop-color="#02b7cb"/><stop offset="0.425" stop-color="#02bac4"/><stop offset="0.475" stop-color="#2cc4a7"/><stop offset="0.537" stop-color="#4dcc82"/><stop offset="0.637" stop-color="#9ec942"/><stop offset="0.725" stop-color="#cdc028"/><stop offset="0.812" stop-color="#edba33"/><stop offset="0.887" stop-color="#fdbd3d"/><stop offset="1.000" stop-color="#fccf31"/></linearGradient><linearGradient id="g80" x1="0" y1="0" x2="0" y2="1"><stop offset="0.000" stop-color="#4537d6"/><stop offset="0.075" stop-color="#484bef"/><stop offset="0.175" stop-color="#3e6fff"/><stop offset="0.238" stop-color="#2e85f8"/><stop offset="0.363" stop-color="#1babde"/><stop offset="0.412" stop-color="#01b8c8"/><stop offset="0.438" stop-color="#10beba"/><stop offset="0.475" stop-color="#2fc5a2"/><stop offset="0.550" stop-color="#5dcc75"/><stop offset="0.637" stop-color="#a2c83f"/><stop offset="0.725" stop-color="#d0bf27"/><stop offset="0.863" stop-color="#f7ba3c"/><stop offset="0.975" stop-color="#fec735"/><stop offset="1.000" stop-color="#fdcb33"/></linearGradient><linearGradient id="g81" x1="0" y1="0" x2="0" y2="1"><stop offset="0.000" stop-color="#473fe2"/><stop offset="0.088" stop-color="#4757f7"/><stop offset="0.162" stop-color="#3b72ff"/><stop offset="0.225" stop-color="#2d88f6"/><stop offset="0.350" stop-color="#19acdc"/><stop offset="0.400" stop-color="#01b9c8"/><stop offset="0.425" stop-color="#11beb9"/><stop offset="0.463" stop-color="#30c5a1"/><stop offset="0.562" stop-color="#76cc61"/><stop offset="0.637" stop-color="#adc738"/><stop offset="0.713" stop-color="#d1bf27"/><stop offset="0.825" stop-color="#efba35"/><stop offset="0.912" stop-color="#fdbd3d"/><stop offset="1.000" stop-color="#fec736"/></linearGradient><linearGradient id="g82" x1="0" y1="0" x2="0" y2="1"><stop offset="0.000" stop-color="#4744e8"/><stop offset="0.125" stop-color="#4369fe"/><stop offset="0.213" stop-color="#2e86f7"/><stop offset="0.350" stop-color="#19addc"/><stop offset="0.400" stop-color="#01b9c7"/><stop offset="0.425" stop-color="#15bfb8"/><stop offset="0.463" stop-color="#32c69f"/><stop offset="0.575" stop-color="#84cb56"/><stop offset="0.625" stop-color="#a7c73c"/><stop offset="0.713" stop-color="#d2bf27"/><stop offset="0.825" stop-color="#edba33"/><stop offset="0.938" stop-color="#fdbd3d"/><stop offset="1.000" stop-color="#fec338"/></linearGradient><linearGradient id="g83" x1="0" y1="0" x2="0" y2="1"><stop offset="0.000" stop-color="#484bef"/><stop offset="0.050" stop-color="#4852f4"/><stop offset="0.137" stop-color="#3e6fff"/><stop offset="0.213" stop-color="#2d88f6"/><stop offset="0.338" stop-color="#1babde"/><stop offset="0.400" stop-color="#01bac5"/><stop offset="0.450" stop-color="#2dc4a5"/><stop offset="0.537" stop-color="#69cd6a"/><stop offset="0.613" stop-color="#a2c840"/><stop offset="0.700" stop-color="#cdc028"/><stop offset="0.775" stop-color="#e2bc2b"/><stop offset="0.963" stop-color="#fcbc3d"/><stop offset="1.000" stop-color="#febf3b"/></linearGradient><linearGradient id="g84" x1="0" y1="0" x2="0" y2="1"><stop offset="0.000" stop-color="#4758f8"/><stop offset="0.100" stop-color="#3b73fe"/><stop offset="0.175" stop-color="#2d88f6"/><stop offset="0.325" stop-color="#18addb"/><stop offset="0.375" stop-color="#02b7cb"/><stop offset="0.400" stop-color="#0abdbe"/><stop offset="0.438" stop-color="#2bc3a7"/><stop offset="0.488" stop-color="#4bcb84"/><stop offset="0.625" stop-color="#a6c83d"/><stop offset="0.713" stop-color="#cdc028"/><stop offset="0.863" stop-color="#eabb30"/><stop offset="1.000" stop-color="#fbbc3d"/></linearGradient><linearGradient id="g85" x1="0" y1="0" x2="0" y2="1"><stop offset="0.000" stop-color="#475bf9"/><stop offset="0.113" stop-color="#3678fd"/><stop offset="0.325" stop-color="#18addb"/><stop offset="0.375" stop-color="#02b7cb"/><stop offset="0.400" stop-color="#09bcbe"/><stop offset="0.438" stop-color="#2ac3a9"/><stop offset="0.537" stop-color="#67cd6d"/><stop offset="0.637" stop-color="#a5c83e"/><stop offset="0.738" stop-color="#cdc028"/><stop offset="0.925" stop-color="#ecba32"/><stop offset="1.000" stop-color="#f6ba3b"/></linearGradient><linearGradient id="g86" x1="0" y1="0" x2="0" y2="1"><stop offset="0.000" stop-color="#465efb"/><stop offset="0.113" stop-color="#347afd"/><stop offset="0.325" stop-color="#17aeda"/><stop offset="0.375" stop-color="#01b7ca"/><stop offset="0.400" stop-color="#09bdbe"/><stop offset="0.438" stop-color="#29c3a9"/><stop offset="0.550" stop-color="#6acd6a"/><stop offset="0.662" stop-color="#aac73a"/><stop offset="0.762" stop-color="#c9c129"/><stop offset="0.938" stop-color="#e7bb2e"/><stop offset="1.000" stop-color="#f0ba36"/></linearGradient><linearGradient id="g87" x1="0" y1="0" x2="0" y2="1"><stop offset="0.000" stop-color="#4465fd"/><stop offset="0.150" stop-color="#2e87f7"/><stop offset="0.312" stop-color="#19acdc"/><stop offset="0.375" stop-color="#01b8c9"/><stop offset="0.400" stop-color="#0abdbd"/><stop offset="0.438" stop-color="#29c3aa"/><stop offset="0.525" stop-color="#58cc79"/><stop offset="0.675" stop-color="#a9c73a"/><stop offset="0.838" stop-color="#cec028"/><stop offset="1.000" stop-color="#e9bb30"/></linearGradient><linearGradient id="g88" x1="0" y1="0" x2="0" y2="1"><stop offset="0.000" stop-color="#426afe"/><stop offset="0.150" stop-color="#2d8af5"/><stop offset="0.312" stop-color="#18addb"/><stop offset="0.375" stop-color="#01b9c8"/><stop offset="0.400" stop-color="#0cbdbc"/><stop offset="0.438" stop-color="#29c3a9"/><stop offset="0.525" stop-color="#55cc7c"/><stop offset="0.688" stop-color="#a6c83d"/><stop offset="0.887" stop-color="#cfc028"/><stop offset="1.000" stop-color="#e2bc2b"/></linearGradient><linearGradient id="g89" x1="0" y1="0" x2="0" y2="1"><stop offset="0.000" stop-color="#4466fd"/><stop offset="0.075" stop-color="#3e70ff"/><stop offset="0.175" stop-color="#2d88f6"/><stop offset="0.325" stop-color="#19acdc"/><stop offset="0.387" stop-color="#01b9c8"/><stop offset="0.412" stop-color="#0cbdbc"/><stop offset="0.450" stop-color="#29c3a9"/><stop offset="0.537" stop-color="#53cc7d"/><stop offset="0.688" stop-color="#9cc944"/><stop offset="0.912" stop-color="#cbc029"/><stop offset="1.000" stop-color="#dbbd29"/></linearGradient><linearGradient id="g90" x1="0" y1="0" x2="0" y2="1"><stop offset="0.000" stop-color="#426afe"/><stop offset="0.150" stop-color="#2d88f6"/><stop offset="0.312" stop-color="#19addc"/><stop offset="0.375" stop-color="#01b8ca"/><stop offset="0.400" stop-color="#08bcbf"/><stop offset="0.450" stop-color="#2ac3a9"/><stop offset="0.562" stop-color="#5ccc75"/><stop offset="0.688" stop-color="#96ca48"/><stop offset="0.938" stop-color="#cbc129"/><stop offset="1.000" stop-color="#d6be28"/></linearGradient><linearGradient id="g91" x1="0" y1="0" x2="0" y2="1"><stop offset="0.000" stop-color="#416cfe"/><stop offset="0.113" stop-color="#307efb"/><stop offset="0.300" stop-color="#1da9e0"/><stop offset="0.387" stop-color="#01b9c7"/><stop offset="0.412" stop-color="#0bbdbc"/><stop offset="0.463" stop-color="#2cc4a7"/><stop offset="0.588" stop-color="#64cd6f"/><stop offset="0.700" stop-color="#91ca4c"/><stop offset="0.963" stop-color="#c9c129"/><stop offset="1.000" stop-color="#d0bf27"/></linearGradient><linearGradient id="g92" x1="0" y1="0" x2="0" y2="1"><stop offset="0.000" stop-color="#3d71ff"/><stop offset="0.125" stop-color="#2d88f6"/><stop offset="0.300" stop-color="#19acdc"/><stop offset="0.375" stop-color="#01b9c8"/><stop offset="0.412" stop-color="#10beba"/><stop offset="0.475" stop-color="#31c5a1"/><stop offset="0.575" stop-color="#5ccc76"/><stop offset="0.688" stop-color="#89cb52"/><stop offset="0.975" stop-color="#c6c22a"/><stop offset="1.000" stop-color="#cac129"/></linearGradient><linearGradient id="g93" x1="0" y1="0" x2="0" y2="1"><stop offset="0.000" stop-color="#3975fe"/><stop offset="0.175" stop-color="#2994ed"/><stop offset="0.325" stop-color="#13b0d7"/><stop offset="0.375" stop-color="#01b8c9"/><stop offset="0.412" stop-color="#0bbdbc"/><stop offset="0.475" stop-color="#2dc4a5"/><stop offset="0.562" stop-color="#4ecc81"/><stop offset="0.637" stop-color="#6fcd66"/><stop offset="0.938" stop-color="#b8c531"/><stop offset="1.000" stop-color="#c4c22b"/></linearGradient><linearGradient id="g94" x1="0" y1="0" x2="0" y2="1"><stop offset="0.000" stop-color="#3678fd"/><stop offset="0.275" stop-color="#1ca9df"/><stop offset="0.375" stop-color="#01b9c7"/><stop offset="0.412" stop-color="#0ebebb"/><stop offset="0.475" stop-color="#2dc4a6"/><stop offset="0.562" stop-color="#4dcc82"/><stop offset="0.613" stop-color="#66cd6d"/><stop offset="0.925" stop-color="#afc637"/><stop offset="1.000" stop-color="#bec32e"/></linearGradient><linearGradient id="g95" x1="0" y1="0" x2="0" y2="1"><stop offset="0.000" stop-color="#327bfc"/><stop offset="0.250" stop-color="#1fa6e2"/><stop offset="0.325" stop-color="#0cb3d3"/><stop offset="0.375" stop-color="#01b9c6"/><stop offset="0.438" stop-color="#1cc0b3"/><stop offset="0.562" stop-color="#4acb84"/><stop offset="0.613" stop-color="#63cd70"/><stop offset="1.000" stop-color="#b8c531"/></linearGradient><linearGradient id="g96" x1="0" y1="0" x2="0" y2="1"><stop offset="0.000" stop-color="#347afd"/><stop offset="0.275" stop-color="#1da8e0"/><stop offset="0.387" stop-color="#01b9c6"/><stop offset="0.450" stop-color="#19bfb5"/><stop offset="0.575" stop-color="#49cb85"/><stop offset="0.613" stop-color="#5bcc77"/><stop offset="1.000" stop-color="#b1c635"/></linearGradient><linearGradient id="g97" x1="0" y1="0" x2="0" y2="1"><stop offset="0.000" stop-color="#3e26a9"/><stop offset="0.275" stop-color="#412cba"/><stop offset="0.363" stop-color="#4848ec"/><stop offset="0.425" stop-color="#4367fd"/><stop offset="0.500" stop-color="#2d87f7"/><stop offset="0.562" stop-color="#19acdc"/><stop offset="0.588" stop-color="#02b7cb"/><stop offset="0.600" stop-color="#02bac3"/><stop offset="0.637" stop-color="#27c2ac"/><stop offset="0.725" stop-color="#63cd70"/><stop offset="0.812" stop-color="#a6c83d"/><stop offset="0.900" stop-color="#d0bf27"/><stop offset="0.975" stop-color="#edba33"/><stop offset="1.000" stop-color="#f5ba3b"/></linearGradient><linearGradient id="g98" x1="0" y1="0" x2="0" y2="1"><stop offset="0.000" stop-color="#3e26a8"/><stop offset="0.200" stop-color="#402ab5"/><stop offset="0.225" stop-color="#463bdc"/><stop offset="0.262" stop-color="#4757f7"/><stop offset="0.312" stop-color="#3c72ff"/><stop offset="0.363" stop-color="#2d89f5"/><stop offset="0.450" stop-color="#17aeda"/><stop offset="0.475" stop-color="#03b7cc"/><stop offset="0.488" stop-color="#02bbc3"/><stop offset="0.525" stop-color="#2cc4a7"/><stop offset="0.575" stop-color="#55cc7c"/><stop offset="0.662" stop-color="#b5c533"/><stop offset="0.700" stop-color="#d8be28"/><stop offset="0.750" stop-color="#fabb3d"/><stop offset="0.900" stop-color="#fad72d"/><stop offset="1.000" stop-color="#f5ec23"/></linearGradient><linearGradient id="g99" x1="0" y1="0" x2="0" y2="1"><stop offset="0.000" stop-color="#3e27aa"/><stop offset="0.188" stop-color="#4537d5"/><stop offset="0.238" stop-color="#4757f7"/><stop offset="0.287" stop-color="#3875fe"/><stop offset="0.412" stop-color="#1baade"/><stop offset="0.450" stop-color="#02b7cb"/><stop offset="0.463" stop-color="#02bbc3"/><stop offset="0.500" stop-color="#2cc4a7"/><stop offset="0.537" stop-color="#46cb88"/><stop offset="0.637" stop-color="#adc638"/><stop offset="0.675" stop-color="#cec028"/><stop offset="0.713" stop-color="#e9bb30"/><stop offset="0.738" stop-color="#f8ba3d"/><stop offset="0.812" stop-color="#fec934"/><stop offset="1.000" stop-color="#f5ec23"/></linearGradient><linearGradient id="g100" x1="0" y1="0" x2="0" y2="1"><stop offset="0.000" stop-color="#422ebf"/><stop offset="0.113" stop-color="#473ee2"/><stop offset="0.175" stop-color="#484df0"/><stop offset="0.238" stop-color="#406cfe"/><stop offset="0.287" stop-color="#2f82fa"/><stop offset="0.400" stop-color="#19addc"/><stop offset="0.438" stop-color="#01b9c8"/><stop offset="0.450" stop-color="#07bcc0"/><stop offset="0.475" stop-color="#25c2ae"/><stop offset="0.525" stop-color="#45cb88"/><stop offset="0.637" stop-color="#b0c636"/><stop offset="0.688" stop-color="#d6be28"/><stop offset="0.750" stop-color="#fabb3d"/><stop offset="0.912" stop-color="#fad62d"/><stop offset="1.000" stop-color="#f5e626"/></linearGradient><linearGradient id="g101" x1="0" y1="0" x2="0" y2="1"><stop offset="0.000" stop-color="#484df0"/><stop offset="0.125" stop-color="#4561fc"/><stop offset="0.238" stop-color="#2f81fa"/><stop offset="0.375" stop-color="#19acdc"/><stop offset="0.412" stop-color="#02b7cb"/><stop offset="0.425" stop-color="#02bbc3"/><stop offset="0.475" stop-color="#31c5a1"/><stop offset="0.525" stop-color="#51cc7f"/><stop offset="0.637" stop-color="#b1c635"/><stop offset="0.688" stop-color="#d3bf27"/><stop offset="0.738" stop-color="#efba35"/><stop offset="0.775" stop-color="#fdbd3d"/><stop offset="1.000" stop-color="#f7e028"/></linearGradient><linearGradient id="g102" x1="0" y1="0" x2="0" y2="1"><stop offset="0.000" stop-color="#402ab5"/><stop offset="0.050" stop-color="#4433cb"/><stop offset="0.100" stop-color="#4848ec"/><stop offset="0.200" stop-color="#416bfe"/><stop offset="0.275" stop-color="#2e87f7"/><stop offset="0.375" stop-color="#19addc"/><stop offset="0.412" stop-color="#01b7ca"/><stop offset="0.425" stop-color="#04bbc2"/><stop offset="0.463" stop-color="#2dc4a6"/><stop offset="0.488" stop-color="#3dca90"/><stop offset="0.537" stop-color="#68cd6b"/><stop offset="0.625" stop-color="#b2c535"/><stop offset="0.675" stop-color="#d1bf27"/><stop offset="0.762" stop-color="#fabb3d"/><stop offset="0.963" stop-color="#fad62d"/><stop offset="1.000" stop-color="#f8db2a"/></linearGradient><linearGradient id="g103" x1="0" y1="0" x2="0" y2="1"><stop offset="0.000" stop-color="#4230c4"/><stop offset="0.050" stop-color="#4536d3"/><stop offset="0.125" stop-color="#4852f4"/><stop offset="0.213" stop-color="#3c71ff"/><stop offset="0.275" stop-color="#2d89f6"/><stop offset="0.375" stop-color="#18aedb"/><stop offset="0.412" stop-color="#01b8c8"/><stop offset="0.425" stop-color="#06bcc0"/><stop offset="0.450" stop-color="#24c1af"/><stop offset="0.537" stop-color="#67cd6c"/><stop offset="0.625" stop-color="#afc636"/><stop offset="0.688" stop-color="#d4bf28"/><stop offset="0.738" stop-color="#eeba35"/><stop offset="0.775" stop-color="#fcbc3d"/><stop offset="1.000" stop-color="#f9d82c"/></linearGradient><linearGradient id="g104" x1="0" y1="0" x2="0" y2="1"><stop offset="0.000" stop-color="#463adb"/><stop offset="0.088" stop-color="#4852f4"/><stop offset="0.175" stop-color="#3f6fff"/><stop offset="0.238" stop-color="#2e84f8"/><stop offset="0.350" stop-color="#1aacdd"/><stop offset="0.400" stop-color="#01b9c6"/><stop offset="0.425" stop-color="#15bfb7"/><stop offset="0.450" stop-color="#2cc4a6"/><stop offset="0.488" stop-color="#45cb89"/><stop offset="0.600" stop-color="#a3c83f"/><stop offset="0.675" stop-color="#cec028"/><stop offset="0.725" stop-color="#e9bb30"/><stop offset="0.762" stop-color="#f9bb3d"/><stop offset="0.912" stop-color="#feca33"/><stop offset="1.000" stop-color="#fad52e"/></linearGradient><linearGradient id="g105" x1="0" y1="0" x2="0" y2="1"><stop offset="0.000" stop-color="#4848ec"/><stop offset="0.137" stop-color="#406cfe"/><stop offset="0.225" stop-color="#2e87f7"/><stop offset="0.338" stop-color="#1aabdd"/><stop offset="0.387" stop-color="#01b9c8"/><stop offset="0.400" stop-color="#04bbc1"/><stop offset="0.450" stop-color="#2fc5a3"/><stop offset="0.500" stop-color="#51cc7f"/><stop offset="0.600" stop-color="#a1c840"/><stop offset="0.688" stop-color="#d0bf27"/><stop offset="0.738" stop-color="#edba33"/><stop offset="0.775" stop-color="#f9bb3d"/><stop offset="0.975" stop-color="#fdce31"/><stop offset="1.000" stop-color="#fcd12f"/></linearGradient><linearGradient id="g106" x1="0" y1="0" x2="0" y2="1"><stop offset="0.000" stop-color="#484ef1"/><stop offset="0.137" stop-color="#3e70ff"/><stop offset="0.213" stop-color="#2d87f7"/><stop offset="0.325" stop-color="#1babde"/><stop offset="0.375" stop-color="#01b8c9"/><stop offset="0.400" stop-color="#0dbdbc"/><stop offset="0.438" stop-color="#2dc4a6"/><stop offset="0.488" stop-color="#4bcb84"/><stop offset="0.588" stop-color="#9ec942"/><stop offset="0.688" stop-color="#d0c027"/><stop offset="0.738" stop-color="#edba33"/><stop offset="0.775" stop-color="#f8ba3d"/><stop offset="0.963" stop-color="#feca33"/><stop offset="1.000" stop-color="#fdce31"/></linearGradient><linearGradient id="g107" x1="0" y1="0" x2="0" y2="1"><stop offset="0.000" stop-color="#475bf9"/><stop offset="0.113" stop-color="#3b73fe"/><stop offset="0.188" stop-color="#2d88f6"/><stop offset="0.312" stop-color="#1aacdd"/><stop offset="0.363" stop-color="#01b8c9"/><stop offset="0.387" stop-color="#0cbdbc"/><stop offset="0.425" stop-color="#2bc3a8"/><stop offset="0.488" stop-color="#4fcc80"/><stop offset="0.588" stop-color="#9fc942"/><stop offset="0.688" stop-color="#cdc028"/><stop offset="0.738" stop-color="#eaba31"/><stop offset="0.787" stop-color="#f7ba3c"/><stop offset="0.963" stop-color="#fec636"/><stop offset="1.000" stop-color="#feca33"/></linearGradient><linearGradient id="g108" x1="0" y1="0" x2="0" y2="1"><stop offset="0.000" stop-color="#465dfa"/><stop offset="0.113" stop-color="#3876fe"/><stop offset="0.200" stop-color="#2c8ef1"/><stop offset="0.312" stop-color="#18addb"/><stop offset="0.363" stop-color="#01b9c7"/><stop offset="0.387" stop-color="#0fbeba"/><stop offset="0.425" stop-color="#2cc4a6"/><stop offset="0.475" stop-color="#48cb86"/><stop offset="0.588" stop-color="#9dc943"/><stop offset="0.688" stop-color="#cbc129"/><stop offset="0.738" stop-color="#e5bb2d"/><stop offset="0.863" stop-color="#f9bb3d"/><stop offset="1.000" stop-color="#fec537"/></linearGradient><linearGradient id="g109" x1="0" y1="0" x2="0" y2="1"><stop offset="0.000" stop-color="#465ffb"/><stop offset="0.100" stop-color="#3974fe"/><stop offset="0.312" stop-color="#19addc"/><stop offset="0.363" stop-color="#01b8c8"/><stop offset="0.387" stop-color="#0cbdbc"/><stop offset="0.425" stop-color="#2ac3a8"/><stop offset="0.488" stop-color="#4ecc81"/><stop offset="0.600" stop-color="#9cc943"/><stop offset="0.713" stop-color="#d1bf27"/><stop offset="0.762" stop-color="#e4bb2c"/><stop offset="0.950" stop-color="#fcbc3d"/><stop offset="1.000" stop-color="#fec03b"/></linearGradient><linearGradient id="g110" x1="0" y1="0" x2="0" y2="1"><stop offset="0.000" stop-color="#4562fc"/><stop offset="0.100" stop-color="#3876fe"/><stop offset="0.312" stop-color="#19addc"/><stop offset="0.363" stop-color="#01b8c9"/><stop offset="0.387" stop-color="#0abdbd"/><stop offset="0.425" stop-color="#29c3aa"/><stop offset="0.488" stop-color="#4ccb83"/><stop offset="0.600" stop-color="#96ca48"/><stop offset="0.700" stop-color="#c4c22a"/><stop offset="0.775" stop-color="#ddbd29"/><stop offset="1.000" stop-color="#fbbc3d"/></linearGradient><linearGradient id="g111" x1="0" y1="0" x2="0" y2="1"><stop offset="0.000" stop-color="#4466fd"/><stop offset="0.075" stop-color="#3f6eff"/><stop offset="0.175" stop-color="#2d89f5"/><stop offset="0.312" stop-color="#19acdc"/><stop offset="0.375" stop-color="#01b9c6"/><stop offset="0.438" stop-color="#2dc4a5"/><stop offset="0.488" stop-color="#48cb86"/><stop offset="0.625" stop-color="#9cc943"/><stop offset="0.725" stop-color="#c6c22a"/><stop offset="0.887" stop-color="#e6bb2d"/><stop offset="1.000" stop-color="#f6ba3b"/></linearGradient><linearGradient id="g112" x1="0" y1="0" x2="0" y2="1"><stop offset="0.000" stop-color="#416bfe"/><stop offset="0.137" stop-color="#2d88f6"/><stop offset="0.300" stop-color="#19addc"/><stop offset="0.363" stop-color="#01b9c8"/><stop offset="0.387" stop-color="#0cbdbc"/><stop offset="0.425" stop-color="#29c3a9"/><stop offset="0.488" stop-color="#4acb84"/><stop offset="0.637" stop-color="#9fc942"/><stop offset="0.713" stop-color="#bbc430"/><stop offset="0.863" stop-color="#d9be28"/><stop offset="1.000" stop-color="#eeba35"/></linearGradient><linearGradient id="g113" x1="0" y1="0" x2="0" y2="1"><stop offset="0.000" stop-color="#3579fd"/><stop offset="0.287" stop-color="#19addc"/><stop offset="0.350" stop-color="#01b8ca"/><stop offset="0.387" stop-color="#0fbeba"/><stop offset="0.438" stop-color="#2fc5a3"/><stop offset="0.488" stop-color="#48cb86"/><stop offset="0.675" stop-color="#a8c73b"/><stop offset="0.875" stop-color="#d2bf27"/><stop offset="1.000" stop-color="#e7bb2e"/></linearGradient><linearGradient id="g114" x1="0" y1="0" x2="0" y2="1"><stop offset="0.000" stop-color="#3974fe"/><stop offset="0.062" stop-color="#3678fd"/><stop offset="0.300" stop-color="#19addc"/><stop offset="0.363" stop-color="#01b8c9"/><stop offset="0.387" stop-color="#09bcbe"/><stop offset="0.438" stop-color="#2cc4a7"/><stop offset="0.500" stop-color="#4dcc82"/><stop offset="0.650" stop-color="#99c946"/><stop offset="0.725" stop-color="#afc637"/><stop offset="0.912" stop-color="#d2bf27"/><stop offset="1.000" stop-color="#e1bc2b"/></linearGradient><linearGradient id="g115" x1="0" y1="0" x2="0" y2="1"><stop offset="0.000" stop-color="#327bfc"/><stop offset="0.262" stop-color="#1caadf"/><stop offset="0.350" stop-color="#01b8c9"/><stop offset="0.387" stop-color="#0fbebb"/><stop offset="0.438" stop-color="#2dc4a6"/><stop offset="0.488" stop-color="#43ca8b"/><stop offset="0.575" stop-color="#72cd64"/><stop offset="0.688" stop-color="#9ec942"/><stop offset="0.925" stop-color="#cdc028"/><stop offset="1.000" stop-color="#dabd28"/></linearGradient><linearGradient id="g116" x1="0" y1="0" x2="0" y2="1"><stop offset="0.000" stop-color="#2e84f8"/><stop offset="0.238" stop-color="#1ca9df"/><stop offset="0.350" stop-color="#01bac5"/><stop offset="0.438" stop-color="#2ec5a4"/><stop offset="0.500" stop-color="#4ccb83"/><stop offset="0.588" stop-color="#77cc60"/><stop offset="0.700" stop-color="#9cc944"/><stop offset="0.963" stop-color="#ccc028"/><stop offset="1.000" stop-color="#d2bf27"/></linearGradient><linearGradient id="g117" x1="0" y1="0" x2="0" y2="1"><stop offset="0.000" stop-color="#317efb"/><stop offset="0.275" stop-color="#1baade"/><stop offset="0.363" stop-color="#01b8c9"/><stop offset="0.400" stop-color="#0cbdbc"/><stop offset="0.450" stop-color="#2ac3a9"/><stop offset="0.537" stop-color="#53cc7d"/><stop offset="0.625" stop-color="#76cc61"/><stop offset="0.775" stop-color="#9dc943"/><stop offset="1.000" stop-color="#cac129"/></linearGradient><linearGradient id="g118" x1="0" y1="0" x2="0" y2="1"><stop offset="0.000" stop-color="#2e86f8"/><stop offset="0.250" stop-color="#1baadf"/><stop offset="0.363" stop-color="#02bac5"/><stop offset="0.488" stop-color="#3ac994"/><stop offset="0.562" stop-color="#63cd6f"/><stop offset="0.762" stop-color="#95ca49"/><stop offset="1.000" stop-color="#c2c22c"/></linearGradient><linearGradient id="g119" x1="0" y1="0" x2="0" y2="1"><stop offset="0.000" stop-color="#2d89f6"/><stop offset="0.262" stop-color="#1aacdd"/><stop offset="0.363" stop-color="#01b9c7"/><stop offset="0.412" stop-color="#15bfb7"/><stop offset="0.525" stop-color="#47cb87"/><stop offset="0.575" stop-color="#5fcd73"/><stop offset="0.988" stop-color="#b8c531"/><stop offset="1.000" stop-color="#bac430"/></linearGradient><linearGradient id="g120" x1="0" y1="0" x2="0" y2="1"><stop offset="0.000" stop-color="#2d8cf3"/><stop offset="0.275" stop-color="#16afd9"/><stop offset="0.363" stop-color="#01b9c7"/><stop offset="0.425" stop-color="#1ac0b5"/><stop offset="0.537" stop-color="#4ccb83"/><stop offset="0.575" stop-color="#5ccc76"/><stop offset="1.000" stop-color="#b1c635"/></linearGradient><linearGradient id="g121" x1="0" y1="0" x2="0" y2="1"><stop offset="0.000" stop-color="#3e27ab"/><stop offset="0.387" stop-color="#412dbd"/><stop offset="0.400" stop-color="#463cde"/><stop offset="0.412" stop-color="#484aee"/><stop offset="0.450" stop-color="#426afe"/><stop offset="0.500" stop-color="#2e85f8"/><stop offset="0.588" stop-color="#19acdc"/><stop offset="0.625" stop-color="#01b8c9"/><stop offset="0.650" stop-color="#0dbdbc"/><stop offset="0.688" stop-color="#2dc4a5"/><stop offset="0.750" stop-color="#4fcc80"/><stop offset="1.000" stop-color="#b1c636"/></linearGradient><linearGradient id="g122" x1="0" y1="0" x2="0" y2="1"><stop offset="0.000" stop-color="#3e27aa"/><stop offset="0.275" stop-color="#412cba"/><stop offset="0.287" stop-color="#463cdf"/><stop offset="0.312" stop-color="#4853f5"/><stop offset="0.363" stop-color="#3975fe"/><stop offset="0.387" stop-color="#2e84f8"/><stop offset="0.463" stop-color="#1aabdd"/><stop offset="0.488" stop-color="#05b6cd"/><stop offset="0.500" stop-color="#08bcbf"/><stop offset="0.512" stop-color="#23c1af"/><stop offset="0.537" stop-color="#3eca8f"/><stop offset="0.637" stop-color="#9bc945"/><stop offset="0.713" stop-color="#c9c129"/><stop offset="0.787" stop-color="#e7bb2e"/><stop offset="0.863" stop-color="#fcbc3d"/><stop offset="1.000" stop-color="#fdce31"/></linearGradient><linearGradient id="g123" x1="0" y1="0" x2="0" y2="1"><stop offset="0.000" stop-color="#3e27ab"/><stop offset="0.175" stop-color="#402ab5"/><stop offset="0.213" stop-color="#4332ca"/><stop offset="0.275" stop-color="#463bde"/><stop offset="0.300" stop-color="#4757f7"/><stop offset="0.338" stop-color="#3875fe"/><stop offset="0.438" stop-color="#1caadf"/><stop offset="0.475" stop-color="#03b7cc"/><stop offset="0.488" stop-color="#03bbc3"/><stop offset="0.512" stop-color="#2cc4a7"/><stop offset="0.537" stop-color="#46cb88"/><stop offset="0.625" stop-color="#99c946"/><stop offset="0.713" stop-color="#cbc029"/><stop offset="0.800" stop-color="#ecba32"/><stop offset="0.863" stop-color="#fcbc3d"/><stop offset="1.000" stop-color="#fccf30"/></linearGradient><linearGradient id="g124" x1="0" y1="0" x2="0" y2="1"><stop offset="0.000" stop-color="#3f28ad"/><stop offset="0.137" stop-color="#402bb8"/><stop offset="0.175" stop-color="#463adb"/><stop offset="0.262" stop-color="#4757f7"/><stop offset="0.300" stop-color="#3975fe"/><stop offset="0.325" stop-color="#2e84f8"/><stop offset="0.425" stop-color="#16aeda"/><stop offset="0.463" stop-color="#01b9c8"/><stop offset="0.475" stop-color="#05bbc1"/><stop offset="0.500" stop-color="#26c2ad"/><stop offset="0.575" stop-color="#63cd6f"/><stop offset="0.625" stop-color="#8fcb4e"/><stop offset="0.725" stop-color="#c8c129"/><stop offset="0.812" stop-color="#e7bb2e"/><stop offset="0.900" stop-color="#fbbc3d"/><stop offset="1.000" stop-color="#fec934"/></linearGradient><linearGradient id="g125" x1="0" y1="0" x2="0" y2="1"><stop offset="0.000" stop-color="#3f28ae"/><stop offset="0.100" stop-color="#402bb6"/><stop offset="0.125" stop-color="#4539d9"/><stop offset="0.150" stop-color="#4745e9"/><stop offset="0.225" stop-color="#4563fc"/><stop offset="0.275" stop-color="#317dfb"/><stop offset="0.400" stop-color="#18addb"/><stop offset="0.450" stop-color="#01b9c6"/><stop offset="0.488" stop-color="#1ec0b2"/><stop offset="0.575" stop-color="#59cc78"/><stop offset="0.625" stop-color="#80cc59"/><stop offset="0.738" stop-color="#c2c32c"/><stop offset="0.812" stop-color="#dcbd29"/><stop offset="0.950" stop-color="#fdbd3d"/><stop offset="1.000" stop-color="#fec438"/></linearGradient><linearGradient id="g126" x1="0" y1="0" x2="0" y2="1"><stop offset="0.000" stop-color="#402ab3"/><stop offset="0.137" stop-color="#4230c3"/><stop offset="0.150" stop-color="#4332cb"/><stop offset="0.162" stop-color="#473ee1"/><stop offset="0.188" stop-color="#4851f4"/><stop offset="0.250" stop-color="#3a74fe"/><stop offset="0.287" stop-color="#2e87f7"/><stop offset="0.400" stop-color="#14b0d8"/><stop offset="0.438" stop-color="#01b9c8"/><stop offset="0.463" stop-color="#0bbdbd"/><stop offset="0.512" stop-color="#2dc4a5"/><stop offset="0.562" stop-color="#46cb88"/><stop offset="0.613" stop-color="#6ccd68"/><stop offset="0.750" stop-color="#bcc42f"/><stop offset="0.838" stop-color="#d8be28"/><stop offset="0.988" stop-color="#fcbc3d"/><stop offset="1.000" stop-color="#febe3c"/></linearGradient><linearGradient id="g127" x1="0" y1="0" x2="0" y2="1"><stop offset="0.000" stop-color="#4331c7"/><stop offset="0.137" stop-color="#463cdf"/><stop offset="0.162" stop-color="#4852f4"/><stop offset="0.225" stop-color="#3d71ff"/><stop offset="0.275" stop-color="#2e87f7"/><stop offset="0.387" stop-color="#16aeda"/><stop offset="0.438" stop-color="#01b9c7"/><stop offset="0.463" stop-color="#0abdbd"/><stop offset="0.512" stop-color="#2bc3a8"/><stop offset="0.575" stop-color="#45cb88"/><stop offset="0.688" stop-color="#89cb53"/><stop offset="0.775" stop-color="#b2c635"/><stop offset="0.875" stop-color="#d2bf27"/><stop offset="0.988" stop-color="#f0ba36"/><stop offset="1.000" stop-color="#f2ba38"/></linearGradient><linearGradient id="g128" x1="0" y1="0" x2="0" y2="1"><stop offset="0.000" stop-color="#463bdd"/><stop offset="0.125" stop-color="#484bef"/><stop offset="0.188" stop-color="#426afe"/><stop offset="0.262" stop-color="#2d88f6"/><stop offset="0.387" stop-color="#13b0d7"/><stop offset="0.438" stop-color="#01b9c7"/><stop offset="0.475" stop-color="#11beb9"/><stop offset="0.537" stop-color="#30c5a2"/><stop offset="0.613" stop-color="#50cc80"/><stop offset="0.775" stop-color="#9ec942"/><stop offset="0.912" stop-color="#cbc129"/><stop offset="1.000" stop-color="#e3bc2c"/></linearGradient><linearGradient id="g129" x1="0" y1="0" x2="0" y2="1"><stop offset="0.000" stop-color="#484bef"/><stop offset="0.150" stop-color="#4269fe"/><stop offset="0.225" stop-color="#2e87f7"/><stop offset="0.338" stop-color="#1aacdd"/><stop offset="0.400" stop-color="#01b8c9"/><stop offset="0.438" stop-color="#09bcbe"/><stop offset="0.512" stop-color="#2cc4a7"/><stop offset="0.600" stop-color="#49cb86"/><stop offset="0.750" stop-color="#89cb52"/><stop offset="0.963" stop-color="#c8c129"/><stop offset="1.000" stop-color="#d1bf27"/></linearGradient><linearGradient id="g130" x1="0" y1="0" x2="0" y2="1"><stop offset="0.000" stop-color="#4755f6"/><stop offset="0.137" stop-color="#3b73fe"/><stop offset="0.213" stop-color="#2d88f6"/><stop offset="0.338" stop-color="#19addc"/><stop offset="0.400" stop-color="#01b7ca"/><stop offset="0.450" stop-color="#09bdbe"/><stop offset="0.537" stop-color="#2cc4a6"/><stop offset="0.637" stop-color="#48cb86"/><stop offset="0.850" stop-color="#91ca4c"/><stop offset="1.000" stop-color="#bdc32e"/></linearGradient><linearGradient id="g131" x1="0" y1="0" x2="0" y2="1"><stop offset="0.000" stop-color="#4563fd"/><stop offset="0.137" stop-color="#2f81fa"/><stop offset="0.287" stop-color="#20a4e3"/><stop offset="0.338" stop-color="#12b1d6"/><stop offset="0.375" stop-color="#02b7cb"/><stop offset="0.425" stop-color="#06bcc0"/><stop offset="0.537" stop-color="#2cc4a6"/><stop offset="0.650" stop-color="#47cb87"/><stop offset="0.787" stop-color="#70cd65"/><stop offset="1.000" stop-color="#acc739"/></linearGradient><linearGradient id="g132" x1="0" y1="0" x2="0" y2="1"><stop offset="0.000" stop-color="#465efb"/><stop offset="0.113" stop-color="#3975fe"/><stop offset="0.200" stop-color="#2d8af4"/><stop offset="0.325" stop-color="#1babde"/><stop offset="0.400" stop-color="#01b8c9"/><stop offset="0.463" stop-color="#0dbdbb"/><stop offset="0.550" stop-color="#2cc4a7"/><stop offset="0.762" stop-color="#60cd72"/><stop offset="1.000" stop-color="#a0c841"/></linearGradient><linearGradient id="g133" x1="0" y1="0" x2="0" y2="1"><stop offset="0.000" stop-color="#4562fc"/><stop offset="0.125" stop-color="#317dfb"/><stop offset="0.312" stop-color="#1caadf"/><stop offset="0.387" stop-color="#02b7cb"/><stop offset="0.438" stop-color="#06bcc0"/><stop offset="0.550" stop-color="#2cc4a7"/><stop offset="0.762" stop-color="#5acc77"/><stop offset="1.000" stop-color="#94ca4a"/></linearGradient><linearGradient id="g134" x1="0" y1="0" x2="0" y2="1"><stop offset="0.000" stop-color="#4465fd"/><stop offset="0.137" stop-color="#2f81fa"/><stop offset="0.300" stop-color="#1ea7e1"/><stop offset="0.400" stop-color="#01b9c8"/><stop offset="0.450" stop-color="#0abdbe"/><stop offset="0.550" stop-color="#2bc3a7"/><stop offset="0.775" stop-color="#57cc7a"/><stop offset="1.000" stop-color="#88cb53"/></linearGradient><linearGradient id="g135" x1="0" y1="0" x2="0" y2="1"><stop offset="0.000" stop-color="#4465fd"/><stop offset="0.113" stop-color="#3678fd"/><stop offset="0.338" stop-color="#18aedb"/><stop offset="0.412" stop-color="#01b8c8"/><stop offset="0.475" stop-color="#0dbdbb"/><stop offset="0.575" stop-color="#2dc4a5"/><stop offset="0.775" stop-color="#4ecc81"/><stop offset="1.000" stop-color="#7bcc5d"/></linearGradient><linearGradient id="g136" x1="0" y1="0" x2="0" y2="1"><stop offset="0.000" stop-color="#4563fc"/><stop offset="0.113" stop-color="#3c71ff"/><stop offset="0.200" stop-color="#2d89f5"/><stop offset="0.375" stop-color="#13b0d7"/><stop offset="0.450" stop-color="#01b9c7"/><stop offset="0.512" stop-color="#12beb9"/><stop offset="0.613" stop-color="#30c5a1"/><stop offset="0.863" stop-color="#54cc7d"/><stop offset="1.000" stop-color="#6fcd66"/></linearGradient><linearGradient id="g137" x1="0" y1="0" x2="0" y2="1"><stop offset="0.000" stop-color="#4367fd"/><stop offset="0.125" stop-color="#327cfc"/><stop offset="0.350" stop-color="#17aeda"/><stop offset="0.425" stop-color="#01b8c9"/><stop offset="0.488" stop-color="#0bbdbd"/><stop offset="0.600" stop-color="#2ec4a5"/><stop offset="0.875" stop-color="#4fcc81"/><stop offset="1.000" stop-color="#64cd6f"/></linearGradient><linearGradient id="g138" x1="0" y1="0" x2="0" y2="1"><stop offset="0.000" stop-color="#416bfe"/><stop offset="0.088" stop-color="#3677fe"/><stop offset="0.312" stop-color="#1da8e0"/><stop offset="0.438" stop-color="#01b9c8"/><stop offset="0.500" stop-color="#0bbdbd"/><stop offset="0.613" stop-color="#2cc4a7"/><stop offset="0.900" stop-color="#4acb84"/><stop offset="1.000" stop-color="#5bcc76"/></linearGradient><linearGradient id="g139" x1="0" y1="0" x2="0" y2="1"><stop offset="0.000" stop-color="#4466fd"/><stop offset="0.100" stop-color="#3f6eff"/><stop offset="0.175" stop-color="#2e86f7"/><stop offset="0.375" stop-color="#14b0d8"/><stop offset="0.450" stop-color="#01b8c9"/><stop offset="0.525" stop-color="#0cbdbc"/><stop offset="0.637" stop-color="#2ac3a9"/><stop offset="0.950" stop-color="#4acb84"/><stop offset="1.000" stop-color="#53cc7d"/></linearGradient><linearGradient id="g140" x1="0" y1="0" x2="0" y2="1"><stop offset="0.000" stop-color="#4368fd"/><stop offset="0.113" stop-color="#3c71ff"/><stop offset="0.175" stop-color="#2e86f7"/><stop offset="0.375" stop-color="#13b1d7"/><stop offset="0.450" stop-color="#01b9c8"/><stop offset="0.550" stop-color="#13beb8"/><stop offset="0.650" stop-color="#28c3aa"/><stop offset="1.000" stop-color="#4acb84"/></linearGradient><linearGradient id="g141" x1="0" y1="0" x2="0" y2="1"><stop offset="0.000" stop-color="#4368fe"/><stop offset="0.113" stop-color="#406dfe"/><stop offset="0.175" stop-color="#2e84f8"/><stop offset="0.350" stop-color="#19acdc"/><stop offset="0.450" stop-color="#01b8c8"/><stop offset="0.550" stop-color="#0ebdbb"/><stop offset="0.675" stop-color="#26c2ac"/><stop offset="1.000" stop-color="#43ca8b"/></linearGradient><linearGradient id="g142" x1="0" y1="0" x2="0" y2="1"><stop offset="0.000" stop-color="#4367fd"/><stop offset="0.088" stop-color="#416bfe"/><stop offset="0.162" stop-color="#2e85f8"/><stop offset="0.350" stop-color="#19acdc"/><stop offset="0.450" stop-color="#01b8ca"/><stop offset="0.575" stop-color="#0dbdbb"/><stop offset="0.725" stop-color="#26c2ad"/><stop offset="1.000" stop-color="#3dc991"/></linearGradient><linearGradient id="g143" x1="0" y1="0" x2="0" y2="1"><stop offset="0.000" stop-color="#4367fd"/><stop offset="0.100" stop-color="#4562fc"/><stop offset="0.175" stop-color="#2f81fa"/><stop offset="0.338" stop-color="#1da8e0"/><stop offset="0.425" stop-color="#09b4d1"/><stop offset="0.512" stop-color="#01b9c6"/><stop offset="0.875" stop-color="#2ec5a4"/><stop offset="1.000" stop-color="#37c897"/></linearGradient><linearGradient id="g144" x1="0" y1="0" x2="0" y2="1"><stop offset="0.000" stop-color="#4464fd"/><stop offset="0.088" stop-color="#465efb"/><stop offset="0.150" stop-color="#3677fe"/><stop offset="0.225" stop-color="#2b90ef"/><stop offset="0.412" stop-color="#10b2d5"/><stop offset="0.463" stop-color="#05b6cd"/><stop offset="0.613" stop-color="#05bbc1"/><stop offset="0.912" stop-color="#2dc4a5"/><stop offset="1.000" stop-color="#33c79c"/></linearGradient><linearGradient id="g145" x1="0" y1="0" x2="0" y2="1"><stop offset="0.000" stop-color="#3e26a8"/><stop offset="0.387" stop-color="#402bb7"/><stop offset="0.400" stop-color="#412ebd"/><stop offset="0.438" stop-color="#4743e7"/><stop offset="0.512" stop-color="#4564fd"/><stop offset="0.588" stop-color="#2e86f8"/><stop offset="0.713" stop-color="#18addb"/><stop offset="0.762" stop-color="#03b7cc"/><stop offset="0.825" stop-color="#04bbc2"/><stop offset="0.975" stop-color="#2cc4a7"/><stop offset="1.000" stop-color="#30c5a2"/></linearGradient><linearGradient id="g146" x1="0" y1="0" x2="0" y2="1"><stop offset="0.000" stop-color="#3e27ab"/><stop offset="0.175" stop-color="#402bb6"/><stop offset="0.200" stop-color="#4332c9"/><stop offset="0.238" stop-color="#4743e7"/><stop offset="0.312" stop-color="#4563fc"/><stop offset="0.387" stop-color="#3080fa"/><stop offset="0.525" stop-color="#1aabdd"/><stop offset="0.588" stop-color="#01b8c9"/><stop offset="0.625" stop-color="#0dbdbb"/><stop offset="0.688" stop-color="#2fc5a3"/><stop offset="0.750" stop-color="#49cb85"/><stop offset="0.887" stop-color="#a6c83d"/><stop offset="1.000" stop-color="#d1bf27"/></linearGradient><linearGradient id="g147" x1="0" y1="0" x2="0" y2="1"><stop offset="0.000" stop-color="#3e26a8"/><stop offset="0.137" stop-color="#402ab3"/><stop offset="0.200" stop-color="#4435d0"/><stop offset="0.250" stop-color="#484ff2"/><stop offset="0.325" stop-color="#3d70ff"/><stop offset="0.387" stop-color="#2d89f5"/><stop offset="0.525" stop-color="#14b0d8"/><stop offset="0.575" stop-color="#01b8c8"/><stop offset="0.613" stop-color="#0bbdbd"/><stop offset="0.675" stop-color="#2bc3a8"/><stop offset="0.762" stop-color="#49cb85"/><stop offset="0.900" stop-color="#9bc945"/><stop offset="1.000" stop-color="#c4c22b"/></linearGradient><linearGradient id="g148" x1="0" y1="0" x2="0" y2="1"><stop offset="0.000" stop-color="#3e26a8"/><stop offset="0.150" stop-color="#412cb9"/><stop offset="0.188" stop-color="#463ddf"/><stop offset="0.262" stop-color="#4660fb"/><stop offset="0.338" stop-color="#307ffb"/><stop offset="0.500" stop-color="#19addc"/><stop offset="0.562" stop-color="#01b8ca"/><stop offset="0.613" stop-color="#0abdbd"/><stop offset="0.700" stop-color="#2dc4a5"/><stop offset="0.800" stop-color="#49cb85"/><stop offset="1.000" stop-color="#a4c83e"/></linearGradient><linearGradient id="g149" x1="0" y1="0" x2="0" y2="1"><stop offset="0.000" stop-color="#402bb6"/><stop offset="0.088" stop-color="#422ebf"/><stop offset="0.113" stop-color="#4536d3"/><stop offset="0.150" stop-color="#484aed"/><stop offset="0.225" stop-color="#4368fd"/><stop offset="0.325" stop-color="#2d87f6"/><stop offset="0.488" stop-color="#18addb"/><stop offset="0.562" stop-color="#01b8c9"/><stop offset="0.625" stop-color="#0cbdbc"/><stop offset="0.725" stop-color="#2cc4a6"/><stop offset="0.863" stop-color="#4ccb83"/><stop offset="1.000" stop-color="#82cc58"/></linearGradient><linearGradient id="g150" x1="0" y1="0" x2="0" y2="1"><stop offset="0.000" stop-color="#412dbc"/><stop offset="0.137" stop-color="#4536d3"/><stop offset="0.175" stop-color="#484cf0"/><stop offset="0.262" stop-color="#3d70ff"/><stop offset="0.338" stop-color="#2d88f6"/><stop offset="0.512" stop-color="#15afd9"/><stop offset="0.588" stop-color="#01b8c9"/><stop offset="0.662" stop-color="#0ebdbb"/><stop offset="0.775" stop-color="#2dc4a6"/><stop offset="0.925" stop-color="#4acb84"/><stop offset="1.000" stop-color="#62cd70"/></linearGradient><linearGradient id="g151" x1="0" y1="0" x2="0" y2="1"><stop offset="0.000" stop-color="#4433cd"/><stop offset="0.075" stop-color="#4536d4"/><stop offset="0.175" stop-color="#4747ec"/><stop offset="0.225" stop-color="#4561fc"/><stop offset="0.312" stop-color="#2f81fa"/><stop offset="0.512" stop-color="#18aedb"/><stop offset="0.600" stop-color="#01b8ca"/><stop offset="0.688" stop-color="#0bbdbc"/><stop offset="0.825" stop-color="#2cc4a7"/><stop offset="1.000" stop-color="#46cb88"/></linearGradient><linearGradient id="g152" x1="0" y1="0" x2="0" y2="1"><stop offset="0.000" stop-color="#463bde"/><stop offset="0.125" stop-color="#484ef1"/><stop offset="0.225" stop-color="#3d70ff"/><stop offset="0.325" stop-color="#2d89f5"/><stop offset="0.550" stop-color="#13b0d7"/><stop offset="0.637" stop-color="#01b7ca"/><stop offset="0.750" stop-color="#0bbdbc"/><stop offset="0.938" stop-color="#2ec4a5"/><stop offset="1.000" stop-color="#34c79c"/></linearGradient><linearGradient id="g153" x1="0" y1="0" x2="0" y2="1"><stop offset="0.000" stop-color="#4744e8"/><stop offset="0.088" stop-color="#484aee"/><stop offset="0.188" stop-color="#4562fc"/><stop offset="0.275" stop-color="#2f81fa"/><stop offset="0.525" stop-color="#17aeda"/><stop offset="0.650" stop-color="#01b7ca"/><stop offset="0.800" stop-color="#09bcbe"/><stop offset="1.000" stop-color="#25c2ad"/></linearGradient><linearGradient id="g154" x1="0" y1="0" x2="0" y2="1"><stop offset="0.000" stop-color="#4852f4"/><stop offset="0.150" stop-color="#3e6fff"/><stop offset="0.262" stop-color="#2d87f6"/><stop offset="0.562" stop-color="#14b0d8"/><stop offset="0.700" stop-color="#05b6ce"/><stop offset="0.925" stop-color="#05bbc1"/><stop offset="1.000" stop-color="#0bbdbd"/></linearGradient><linearGradient id="g155" x1="0" y1="0" x2="0" y2="1"><stop offset="0.000" stop-color="#484ff2"/><stop offset="0.162" stop-color="#3d70ff"/><stop offset="0.262" stop-color="#2e85f8"/><stop offset="0.613" stop-color="#14b0d8"/><stop offset="1.000" stop-color="#01b8c9"/></linearGradient><linearGradient id="g156" x1="0" y1="0" x2="0" y2="1"><stop offset="0.000" stop-color="#484cef"/><stop offset="0.188" stop-color="#3e6fff"/><stop offset="0.312" stop-color="#2e86f7"/><stop offset="0.625" stop-color="#1babde"/><stop offset="1.000" stop-color="#07b5cf"/></linearGradient><linearGradient id="g157" x1="0" y1="0" x2="0" y2="1"><stop offset="0.000" stop-color="#4850f3"/><stop offset="0.200" stop-color="#3d71ff"/><stop offset="0.325" stop-color="#2e85f8"/><stop offset="0.613" stop-color="#1fa6e2"/><stop offset="1.000" stop-color="#11b1d6"/></linearGradient><linearGradient id="g158" x1="0" y1="0" x2="0" y2="1"><stop offset="0.000" stop-color="#484df0"/><stop offset="0.100" stop-color="#4757f7"/><stop offset="0.275" stop-color="#3975fe"/><stop offset="0.412" stop-color="#2d8bf4"/><stop offset="0.650" stop-color="#23a1e4"/><stop offset="1.000" stop-color="#18addb"/></linearGradient><linearGradient id="g159" x1="0" y1="0" x2="0" y2="1"><stop offset="0.000" stop-color="#484df0"/><stop offset="0.262" stop-color="#3e6fff"/><stop offset="0.425" stop-color="#2d88f6"/><stop offset="0.688" stop-color="#259de7"/><stop offset="1.000" stop-color="#1ca9e0"/></linearGradient><linearGradient id="g160" x1="0" y1="0" x2="0" y2="1"><stop offset="0.000" stop-color="#4755f6"/><stop offset="0.275" stop-color="#3c71ff"/><stop offset="0.450" stop-color="#2d89f6"/><stop offset="0.838" stop-color="#249ee6"/><stop offset="1.000" stop-color="#20a4e3"/></linearGradient><linearGradient id="g161" x1="0" y1="0" x2="0" y2="1"><stop offset="0.000" stop-color="#484ef1"/><stop offset="0.125" stop-color="#4755f6"/><stop offset="0.325" stop-color="#3e6fff"/><stop offset="0.475" stop-color="#2e85f8"/><stop offset="1.000" stop-color="#239fe5"/></linearGradient><linearGradient id="g162" x1="0" y1="0" x2="0" y2="1"><stop offset="0.000" stop-color="#4851f3"/><stop offset="0.312" stop-color="#3e70ff"/><stop offset="0.488" stop-color="#2e86f8"/><stop offset="1.000" stop-color="#259be8"/></linearGradient><linearGradient id="g163" x1="0" y1="0" x2="0" y2="1"><stop offset="0.000" stop-color="#4849ed"/><stop offset="0.363" stop-color="#3f6eff"/><stop offset="0.562" stop-color="#2e83f9"/><stop offset="1.000" stop-color="#2896ec"/></linearGradient><linearGradient id="g164" x1="0" y1="0" x2="0" y2="1"><stop offset="0.000" stop-color="#484bef"/><stop offset="0.350" stop-color="#3f6dfe"/><stop offset="0.562" stop-color="#2f81fa"/><stop offset="1.000" stop-color="#2b91ef"/></linearGradient><linearGradient id="g165" x1="0" y1="0" x2="0" y2="1"><stop offset="0.000" stop-color="#484cf0"/><stop offset="0.387" stop-color="#3e70ff"/><stop offset="0.562" stop-color="#317efb"/><stop offset="1.000" stop-color="#2d8bf3"/></linearGradient><linearGradient id="g166" x1="0" y1="0" x2="0" y2="1"><stop offset="0.000" stop-color="#4849ed"/><stop offset="0.387" stop-color="#3f6eff"/><stop offset="0.600" stop-color="#327cfc"/><stop offset="1.000" stop-color="#2e86f7"/></linearGradient><linearGradient id="g167" x1="0" y1="0" x2="0" y2="1"><stop offset="0.000" stop-color="#4746ea"/><stop offset="0.375" stop-color="#4269fe"/><stop offset="0.613" stop-color="#3777fe"/><stop offset="1.000" stop-color="#2f81fa"/></linearGradient><linearGradient id="g168" x1="0" y1="0" x2="0" y2="1"><stop offset="0.000" stop-color="#4744e8"/><stop offset="0.363" stop-color="#4564fd"/><stop offset="0.700" stop-color="#3a73fe"/><stop offset="1.000" stop-color="#337bfd"/></linearGradient></defs>
<g shape-rendering="crispEdges"><rect x="65.00" y="65.3" width="10.60" height="365.3" fill="#3e26a8"/>
<rect x="75.00" y="65.3" width="10.68" height="365.3" fill="url(#g1)"/>
<rect x="85.08" y="65.3" width="10.68" height="365.3" fill="url(#g2)"/>
<rect x="95.17" y="65.3" width="10.68" height="365.3" fill="url(#g3)"/>
<rect x="105.25" y="65.3" width="10.68" height="365.3" fill="url(#g4)"/>
<rect x="115.33" y="65.3" width="10.68" height="365.3" fill="url(#g5)"/>
<rect x="125.42" y="65.3" width="10.68" height="365.3" fill="url(#g6)"/>
<rect x="135.50" y="65.3" width="10.68" height="365.3" fill="url(#g7)"/>
<rect x="145.58" y="65.3" width="10.68" height="365.3" fill="url(#g8)"/>
<rect x="155.67" y="65.3" width="10.68" height="365.3" fill="url(#g9)"/>
<rect x="165.75" y="65.3" width="10.68" height="365.3" fill="url(#g10)"/>
<rect x="175.83" y="65.3" width="10.68" height="365.3" fill="url(#g11)"/>
<rect x="185.92" y="65.3" width="10.68" height="365.3" fill="url(#g12)"/>
<rect x="196.00" y="65.3" width="10.68" height="365.3" fill="url(#g13)"/>
<rect x="206.08" y="65.3" width="10.68" height="365.3" fill="url(#g14)"/>
<rect x="216.17" y="65.3" width="10.68" height="365.3" fill="url(#g15)"/>
<rect x="226.25" y="65.3" width="10.68" height="365.3" fill="url(#g16)"/>
<rect x="236.33" y="65.3" width="10.68" height="365.3" fill="url(#g17)"/>
<rect x="246.42" y="65.3" width="10.68" height="365.3" fill="url(#g18)"/>
<rect x="256.50" y="65.3" width="10.68" height="365.3" fill="url(#g19)"/>
<rect x="266.58" y="65.3" width="10.68" height="365.3" fill="url(#g20)"/>
<rect x="276.67" y="65.3" width="10.68" height="365.3" fill="url(#g21)"/>
<rect x="286.75" y="65.3" width="10.68" height="365.3" fill="url(#g22)"/>
<rect x="296.83" y="65.3" width="10.68" height="365.3" fill="url(#g23)"/>
<rect x="306.92" y="65.3" width="10.08" height="365.3" fill="url(#g24)"/>
<rect x="328.00" y="65.3" width="10.60" height="365.3" fill="#3e26a8"/>
<rect x="338.00" y="65.3" width="10.68" height="365.3" fill="url(#g25)"/>
<rect x="348.08" y="65.3" width="10.68" height="365.3" fill="url(#g26)"/>
<rect x="358.17" y="65.3" width="10.68" height="365.3" fill="url(#g27)"/>
<rect x="368.25" y="65.3" width="10.68" height="365.3" fill="url(#g28)"/>
<rect x="378.33" y="65.3" width="10.68" height="365.3" fill="url(#g29)"/>
<rect x="388.42" y="65.3" width="10.68" height="365.3" fill="url(#g30)"/>
<rect x="398.50" y="65.3" width="10.68" height="365.3" fill="url(#g31)"/>
<rect x="408.58" y="65.3" width="10.68" height="365.3" fill="url(#g32)"/>
<rect x="418.67" y="65.3" width="10.68" height="365.3" fill="url(#g33)"/>
<rect x="428.75" y="65.3" width="10.68" height="365.3" fill="url(#g34)"/>
<rect x="438.83" y="65.3" width="10.68" height="365.3" fill="url(#g35)"/>
<rect x="448.92" y="65.3" width="10.68" height="365.3" fill="url(#g36)"/>
<rect x="459.00" y="65.3" width="10.68" height="365.3" fill="url(#g37)"/>
<rect x="469.08" y="65.3" width="10.68" height="365.3" fill="url(#g38)"/>
<rect x="479.17" y="65.3" width="10.68" height="365.3" fill="url(#g39)"/>
<rect x="489.25" y="65.3" width="10.68" height="365.3" fill="url(#g40)"/>
<rect x="499.33" y="65.3" width="10.68" height="365.3" fill="url(#g41)"/>
<rect x="509.42" y="65.3" width="10.68" height="365.3" fill="url(#g42)"/>
<rect x="519.50" y="65.3" width="10.68" height="365.3" fill="url(#g43)"/>
<rect x="529.58" y="65.3" width="10.68" height="365.3" fill="url(#g44)"/>
<rect x="539.67" y="65.3" width="10.68" height="365.3" fill="url(#g45)"/>
<rect x="549.75" y="65.3" width="10.68" height="365.3" fill="url(#g46)"/>
<rect x="559.83" y="65.3" width="10.68" height="365.3" fill="url(#g47)"/>
<rect x="569.92" y="65.3" width="10.08" height="365.3" fill="url(#g48)"/>
<rect x="589.00" y="65.3" width="10.60" height="365.3" fill="#3e26a8"/>
<rect x="599.00" y="65.3" width="10.68" height="365.3" fill="url(#g49)"/>
<rect x="609.08" y="65.3" width="10.68" height="365.3" fill="url(#g50)"/>
<rect x="619.17" y="65.3" width="10.68" height="365.3" fill="url(#g51)"/>
<rect x="629.25" y="65.3" width="10.68" height="365.3" fill="url(#g52)"/>
<rect x="639.33" y="65.3" width="10.68" height="365.3" fill="url(#g53)"/>
<rect x="649.42" y="65.3" width="10.68" height="365.3" fill="url(#g54)"/>
<rect x="659.50" y="65.3" width="10.68" height="365.3" fill="url(#g55)"/>
<rect x="669.58" y="65.3" width="10.68" height="365.3" fill="url(#g56)"/>
<rect x="679.67" y="65.3" width="10.68" height="365.3" fill="url(#g57)"/>
<rect x="689.75" y="65.3" width="10.68" height="365.3" fill="url(#g58)"/>
<rect x="699.83" y="65.3" width="10.68" height="365.3" fill="url(#g59)"/>
<rect x="709.92" y="65.3" width="10.68" height="365.3" fill="url(#g60)"/>
<rect x="720.00" y="65.3" width="10.68" height="365.3" fill="url(#g61)"/>
<rect x="730.08" y="65.3" width="10.68" height="365.3" fill="url(#g62)"/>
<rect x="740.17" y="65.3" width="10.68" height="365.3" fill="url(#g63)"/>
<rect x="750.25" y="65.3" width="10.68" height="365.3" fill="url(#g64)"/>
<rect x="760.33" y="65.3" width="10.68" height="365.3" fill="url(#g65)"/>
<rect x="770.42" y="65.3" width="10.68" height="365.3" fill="url(#g66)"/>
<rect x="780.50" y="65.3" width="10.68" height="365.3" fill="url(#g67)"/>
<rect x="790.58" y="65.3" width="10.68" height="365.3" fill="url(#g68)"/>
<rect x="800.67" y="65.3" width="10.68" height="365.3" fill="url(#g69)"/>
<rect x="810.75" y="65.3" width="10.68" height="365.3" fill="url(#g70)"/>
<rect x="820.83" y="65.3" width="10.68" height="365.3" fill="url(#g71)"/>
<rect x="830.92" y="65.3" width="10.08" height="365.3" fill="url(#g72)"/>
<rect x="851.10" y="65.3" width="10.60" height="365.3" fill="#3e26a8"/>
<rect x="861.10" y="65.3" width="10.68" height="365.3" fill="url(#g73)"/>
<rect x="871.18" y="65.3" width="10.68" height="365.3" fill="url(#g74)"/>
<rect x="881.27" y="65.3" width="10.68" height="365.3" fill="url(#g75)"/>
<rect x="891.35" y="65.3" width="10.68" height="365.3" fill="url(#g76)"/>
<rect x="901.43" y="65.3" width="10.68" height="365.3" fill="url(#g77)"/>
<rect x="911.52" y="65.3" width="10.68" height="365.3" fill="url(#g78)"/>
<rect x="921.60" y="65.3" width="10.68" height="365.3" fill="url(#g79)"/>
<rect x="931.68" y="65.3" width="10.68" height="365.3" fill="url(#g80)"/>
<rect x="941.77" y="65.3" width="10.68" height="365.3" fill="url(#g81)"/>
<rect x="951.85" y="65.3" width="10.68" height="365.3" fill="url(#g82)"/>
<rect x="961.93" y="65.3" width="10.68" height="365.3" fill="url(#g83)"/>
<rect x="972.02" y="65.3" width="10.68" height="365.3" fill="url(#g84)"/>
<rect x="982.10" y="65.3" width="10.68" height="365.3" fill="url(#g85)"/>
<rect x="992.18" y="65.3" width="10.68" height="365.3" fill="url(#g86)"/>
<rect x="1002.27" y="65.3" width="10.68" height="365.3" fill="url(#g87)"/>
<rect x="1012.35" y="65.3" width="10.68" height="365.3" fill="url(#g88)"/>
<rect x="1022.43" y="65.3" width="10.68" height="365.3" fill="url(#g89)"/>
<rect x="1032.52" y="65.3" width="10.68" height="365.3" fill="url(#g90)"/>
<rect x="1042.60" y="65.3" width="10.68" height="365.3" fill="url(#g91)"/>
<rect x="1052.68" y="65.3" width="10.68" height="365.3" fill="url(#g92)"/>
<rect x="1062.77" y="65.3" width="10.68" height="365.3" fill="url(#g93)"/>
<rect x="1072.85" y="65.3" width="10.68" height="365.3" fill="url(#g94)"/>
<rect x="1082.93" y="65.3" width="10.68" height="365.3" fill="url(#g95)"/>
<rect x="1093.02" y="65.3" width="10.08" height="365.3" fill="url(#g96)"/>
<rect x="1113.10" y="65.3" width="10.60" height="365.3" fill="#3e26a8"/>
<rect x="1123.10" y="65.3" width="10.68" height="365.3" fill="url(#g97)"/>
<rect x="1133.18" y="65.3" width="10.68" height="365.3" fill="url(#g98)"/>
<rect x="1143.27" y="65.3" width="10.68" height="365.3" fill="url(#g99)"/>
<rect x="1153.35" y="65.3" width="10.68" height="365.3" fill="url(#g100)"/>
<rect x="1163.43" y="65.3" width="10.68" height="365.3" fill="url(#g101)"/>
<rect x="1173.52" y="65.3" width="10.68" height="365.3" fill="url(#g102)"/>
<rect x="1183.60" y="65.3" width="10.68" height="365.3" fill="url(#g103)"/>
<rect x="1193.68" y="65.3" width="10.68" height="365.3" fill="url(#g104)"/>
<rect x="1203.77" y="65.3" width="10.68" height="365.3" fill="url(#g105)"/>
<rect x="1213.85" y="65.3" width="10.68" height="365.3" fill="url(#g106)"/>
<rect x="1223.93" y="65.3" width="10.68" height="365.3" fill="url(#g107)"/>
<rect x="1234.02" y="65.3" width="10.68" height="365.3" fill="url(#g108)"/>
<rect x="1244.10" y="65.3" width="10.68" height="365.3" fill="url(#g109)"/>
<rect x="1254.18" y="65.3" width="10.68" height="365.3" fill="url(#g110)"/>
<rect x="1264.27" y="65.3" width="10.68" height="365.3" fill="url(#g111)"/>
<rect x="1274.35" y="65.3" width="10.68" height="365.3" fill="url(#g112)"/>
<rect x="1284.43" y="65.3" width="10.68" height="365.3" fill="url(#g113)"/>
<rect x="1294.52" y="65.3" width="10.68" height="365.3" fill="url(#g114)"/>
<rect x="1304.60" y="65.3" width="10.68" height="365.3" fill="url(#g115)"/>
<rect x="1314.68" y="65.3" width="10.68" height="365.3" fill="url(#g116)"/>
<rect x="1324.77" y="65.3" width="10.68" height="365.3" fill="url(#g117)"/>
<rect x="1334.85" y="65.3" width="10.68" height="365.3" fill="url(#g118)"/>
<rect x="1344.93" y="65.3" width="10.68" height="365.3" fill="url(#g119)"/>
<rect x="1355.02" y="65.3" width="10.08" height="365.3" fill="url(#g120)"/>
<rect x="1375.10" y="65.3" width="10.60" height="365.3" fill="#3e26a8"/>
<rect x="1385.10" y="65.3" width="10.68" height="365.3" fill="url(#g121)"/>
<rect x="1395.18" y="65.3" width="10.68" height="365.3" fill="url(#g122)"/>
<rect x="1405.27" y="65.3" width="10.68" height="365.3" fill="url(#g123)"/>
<rect x="1415.35" y="65.3" width="10.68" height="365.3" fill="url(#g124)"/>
<rect x="1425.43" y="65.3" width="10.68" height="365.3" fill="url(#g125)"/>
<rect x="1435.52" y="65.3" width="10.68" height="365.3" fill="url(#g126)"/>
<rect x="1445.60" y="65.3" width="10.68" height="365.3" fill="url(#g127)"/>
<rect x="1455.68" y="65.3" width="10.68" height="365.3" fill="url(#g128)"/>
<rect x="1465.77" y="65.3" width="10.68" height="365.3" fill="url(#g129)"/>
<rect x="1475.85" y="65.3" width="10.68" height="365.3" fill="url(#g130)"/>
<rect x="1485.93" y="65.3" width="10.68" height="365.3" fill="url(#g131)"/>
<rect x="1496.02" y="65.3" width="10.68" height="365.3" fill="url(#g132)"/>
<rect x="1506.10" y="65.3" width="10.68" height="365.3" fill="url(#g133)"/>
<rect x="1516.18" y="65.3" width="10.68" height="365.3" fill="url(#g134)"/>
<rect x="1526.27" y="65.3" width="10.68" height="365.3" fill="url(#g135)"/>
<rect x="1536.35" y="65.3" width="10.68" height="365.3" fill="url(#g136)"/>
<rect x="1546.43" y="65.3" width="10.68" height="365.3" fill="url(#g137)"/>
<rect x="1556.52" y="65.3" width="10.68" height="365.3" fill="url(#g138)"/>
<rect x="1566.60" y="65.3" width="10.68" height="365.3" fill="url(#g139)"/>
<rect x="1576.68" y="65.3" width="10.68" height="365.3" fill="url(#g140)"/>
<rect x="1586.77" y="65.3" width="10.68" height="365.3" fill="url(#g141)"/>
<rect x="1596.85" y="65.3" width="10.68" height="365.3" fill="url(#g142)"/>
<rect x="1606.93" y="65.3" width="10.68" height="365.3" fill="url(#g143)"/>
<rect x="1617.02" y="65.3" width="10.08" height="365.3" fill="url(#g144)"/>
<rect x="1637.20" y="65.3" width="10.60" height="365.3" fill="#3e26a8"/>
<rect x="1647.20" y="65.3" width="10.68" height="365.3" fill="url(#g145)"/>
<rect x="1657.28" y="65.3" width="10.68" height="365.3" fill="url(#g146)"/>
<rect x="1667.37" y="65.3" width="10.68" height="365.3" fill="url(#g147)"/>
<rect x="1677.45" y="65.3" width="10.68" height="365.3" fill="url(#g148)"/>
<rect x="1687.53" y="65.3" width="10.68" height="365.3" fill="url(#g149)"/>
<rect x="1697.62" y="65.3" width="10.68" height="365.3" fill="url(#g150)"/>
<rect x="1707.70" y="65.3" width="10.68" height="365.3" fill="url(#g151)"/>
<rect x="1717.78" y="65.3" width="10.68" height="365.3" fill="url(#g152)"/>
<rect x="1727.87" y="65.3" width="10.68" height="365.3" fill="url(#g153)"/>
<rect x="1737.95" y="65.3" width="10.68" height="365.3" fill="url(#g154)"/>
<rect x="1748.03" y="65.3" width="10.68" height="365.3" fill="url(#g155)"/>
<rect x="1758.12" y="65.3" width="10.68" height="365.3" fill="url(#g156)"/>
<rect x="1768.20" y="65.3" width="10.68" height="365.3" fill="url(#g157)"/>
<rect x="1778.28" y="65.3" width="10.68" height="365.3" fill="url(#g158)"/>
<rect x="1788.37" y="65.3" width="10.68" height="365.3" fill="url(#g159)"/>
<rect x="1798.45" y="65.3" width="10.68" height="365.3" fill="url(#g160)"/>
<rect x="1808.53" y="65.3" width="10.68" height="365.3" fill="url(#g161)"/>
<rect x="1818.62" y="65.3" width="10.68" height="365.3" fill="url(#g162)"/>
<rect x="1828.70" y="65.3" width="10.68" height="365.3" fill="url(#g163)"/>
<rect x="1838.78" y="65.3" width="10.68" height="365.3" fill="url(#g164)"/>
<rect x="1848.87" y="65.3" width="10.68" height="365.3" fill="url(#g165)"/>
<rect x="1858.95" y="65.3" width="10.68" height="365.3" fill="url(#g166)"/>
<rect x="1869.03" y="65.3" width="10.68" height="365.3" fill="url(#g167)"/>
<rect x="1879.12" y="65.3" width="10.08" height="365.3" fill="url(#g168)"/></g>
<defs><linearGradient id="cbar" x1="0" y1="0" x2="0" y2="1"><stop offset="0.0000" stop-color="#f9fb15"/><stop offset="0.0312" stop-color="#f6f020"/><stop offset="0.0625" stop-color="#f6e427"/><stop offset="0.0938" stop-color="#fad72d"/><stop offset="0.1250" stop-color="#feca33"/><stop offset="0.1562" stop-color="#febe3c"/><stop offset="0.1875" stop-color="#f1ba37"/><stop offset="0.2188" stop-color="#debc2a"/><stop offset="0.2500" stop-color="#c8c129"/><stop offset="0.2812" stop-color="#afc637"/><stop offset="0.3125" stop-color="#94ca4a"/><stop offset="0.3438" stop-color="#77cc60"/><stop offset="0.3750" stop-color="#5ccc76"/><stop offset="0.4062" stop-color="#44ca8a"/><stop offset="0.4375" stop-color="#34c79c"/><stop offset="0.4688" stop-color="#28c2ab"/><stop offset="0.5000" stop-color="#12beb9"/><stop offset="0.5312" stop-color="#01b9c6"/><stop offset="0.5625" stop-color="#0cb3d3"/><stop offset="0.5938" stop-color="#1aacdd"/><stop offset="0.6250" stop-color="#21a3e3"/><stop offset="0.6562" stop-color="#269ae9"/><stop offset="0.6875" stop-color="#2c90f0"/><stop offset="0.7188" stop-color="#2e85f8"/><stop offset="0.7500" stop-color="#347afd"/><stop offset="0.7812" stop-color="#3f6efe"/><stop offset="0.8125" stop-color="#4562fc"/><stop offset="0.8438" stop-color="#4757f7"/><stop offset="0.8750" stop-color="#484cef"/><stop offset="0.9062" stop-color="#4741e5"/><stop offset="0.9375" stop-color="#4536d5"/><stop offset="0.9688" stop-color="#422ebf"/><stop offset="1.0000" stop-color="#3e26a8"/></linearGradient></defs>
<rect x="1904.0" y="68.3" width="19.5" height="363.09999999999997" fill="url(#cbar)"/>
<path d="M1904.0 68.3H1923.5V431.4H1904.0" fill="none" stroke="#231f20" stroke-width="1"/>
<path d="M1923.5 409.9h-2.2 M1923.5 392.3h-2.2 M1923.5 377.9h-2.2 M1923.5 365.7h-2.2 M1923.5 355.1h-2.2 M1923.5 345.8h-2.2 M1923.5 337.5h-3.5 M1923.5 282.7h-2.2 M1923.5 250.7h-2.2 M1923.5 227.9h-2.2 M1923.5 210.3h-2.2 M1923.5 195.9h-2.2 M1923.5 183.7h-2.2 M1923.5 173.1h-2.2 M1923.5 163.8h-2.2 M1923.5 155.5h-3.5 M1923.5 100.7h-2.2" stroke="#231f20" stroke-width="1.3" fill="none"/>
<circle cx="110.2" cy="777.4" r="5.3" fill="#3e26a8"/><circle cx="113.9" cy="769.6" r="5.3" fill="#3e26a8"/><circle cx="121.0" cy="777.4" r="5.3" fill="#3e26a8"/><circle cx="128.4" cy="784.2" r="5.3" fill="#3e26a8"/><circle cx="135.9" cy="790.2" r="5.3" fill="#3e26a8"/><circle cx="143.3" cy="792.7" r="5.3" fill="#3e26a8"/><circle cx="152.3" cy="798.6" r="5.3" fill="#3e26a8"/><circle cx="161.8" cy="803.7" r="5.3" fill="#3e26a8"/><circle cx="180.4" cy="811.8" r="5.3" fill="#3e26a8"/><circle cx="199.0" cy="817.6" r="5.3" fill="#3e26a8"/><circle cx="217.5" cy="825.6" r="5.3" fill="#3e26a8"/><circle cx="254.3" cy="837.0" r="5.3" fill="#3e26a8"/><circle cx="291.4" cy="848.9" r="5.3" fill="#3e26a8"/><circle cx="384.4" cy="881.1" r="5.3" fill="#3e26a8"/><circle cx="477.2" cy="913.6" r="5.3" fill="#3e26a8"/><circle cx="569.9" cy="927.4" r="5.3" fill="#3e26a8"/><circle cx="102.8" cy="1043.1" r="5.3" fill="#3e26a8"/><circle cx="106.4" cy="1099.0" r="5.3" fill="#3e26a8"/>
<path d="M98.8 771.3 L106.8 775.0 L117.9 780.0 L131.0 786.1 L145.4 792.7 L160.3 799.4 L174.8 805.9 L187.9 811.8 L199.0 816.5 L207.9 820.1 L215.5 823.0 L222.1 825.4 L228.2 827.4 L234.0 829.3 L240.1 831.3 L246.7 833.5 L254.3 836.1 L262.9 839.2 L272.3 842.5 L282.1 846.1 L292.2 849.7 L302.3 853.3 L312.1 856.8 L321.4 860.1 L330.0 863.1 L337.6 865.7 L344.2 867.9 L350.3 869.9 L356.1 871.8 L362.1 873.8 L368.6 875.9 L375.9 878.2 L384.4 881.0 L394.1 884.2 L404.8 887.8 L416.2 891.7 L428.2 895.7 L440.4 899.8 L452.8 903.9 L465.2 907.8 L477.2 911.4 L489.7 915.0 L503.3 918.7 L517.3 922.4 L531.2 926.0 L544.4 929.3 L556.2 932.3 L566.1 934.8 L573.6 936.7" stroke="#3e26a8" stroke-width="3" fill="none" stroke-linejoin="round"/>
<circle cx="110.0" cy="844.9" r="5.3" fill="#4852f4"/><circle cx="114.0" cy="833.7" r="5.3" fill="#4852f4"/><circle cx="121.0" cy="840.2" r="5.3" fill="#4852f4"/><circle cx="128.7" cy="838.8" r="5.3" fill="#4852f4"/><circle cx="135.9" cy="842.8" r="5.3" fill="#4852f4"/><circle cx="143.6" cy="856.3" r="5.3" fill="#4852f4"/><circle cx="152.7" cy="854.3" r="5.3" fill="#4852f4"/><circle cx="161.8" cy="857.4" r="5.3" fill="#4852f4"/><circle cx="180.4" cy="861.5" r="5.3" fill="#4852f4"/><circle cx="199.0" cy="866.2" r="5.3" fill="#4852f4"/><circle cx="217.5" cy="864.8" r="5.3" fill="#4852f4"/><circle cx="254.3" cy="874.6" r="5.3" fill="#4852f4"/><circle cx="291.7" cy="886.7" r="5.3" fill="#4852f4"/><circle cx="384.4" cy="899.1" r="5.3" fill="#4852f4"/><circle cx="477.2" cy="910.2" r="5.3" fill="#4852f4"/><circle cx="569.9" cy="932.8" r="5.3" fill="#4852f4"/><circle cx="104.7" cy="1005.1" r="5.3" fill="#4852f4"/><circle cx="98.6" cy="1086.0" r="5.3" fill="#4852f4"/>
<path d="M98.8 840.4 L101.5 840.5 L105.0 840.7 L109.1 840.9 L113.8 841.1 L118.8 841.4 L124.0 841.7 L129.3 842.2 L134.5 842.8 L139.6 843.5 L144.6 844.3 L149.7 845.1 L155.1 846.0 L160.7 847.1 L166.7 848.3 L173.3 849.6 L180.4 851.0 L188.3 852.6 L196.9 854.3 L206.0 856.2 L215.5 858.2 L225.2 860.3 L235.0 862.5 L244.8 864.8 L254.3 867.1 L263.8 869.6 L273.6 872.3 L283.5 875.2 L293.4 878.1 L303.1 881.0 L312.5 883.8 L321.5 886.4 L330.0 888.7 L337.6 890.6 L344.2 892.2 L350.3 893.6 L356.1 894.9 L362.1 896.2 L368.6 897.6 L375.9 899.3 L384.4 901.3 L394.1 903.7 L404.8 906.4 L416.2 909.3 L428.2 912.4 L440.4 915.5 L452.8 918.7 L465.2 921.9 L477.2 924.9 L489.7 928.1 L503.3 931.5 L517.3 935.0 L531.2 938.4 L544.4 941.7 L556.2 944.7 L566.1 947.1 L573.6 949.0" stroke="#4852f4" stroke-width="3" fill="none" stroke-linejoin="round"/>
<circle cx="110.2" cy="898.4" r="5.3" fill="#2e87f7"/><circle cx="114.0" cy="877.0" r="5.3" fill="#2e87f7"/><circle cx="121.0" cy="885.3" r="5.3" fill="#2e87f7"/><circle cx="128.7" cy="882.0" r="5.3" fill="#2e87f7"/><circle cx="135.9" cy="871.9" r="5.3" fill="#2e87f7"/><circle cx="143.6" cy="880.9" r="5.3" fill="#2e87f7"/><circle cx="152.7" cy="878.3" r="5.3" fill="#2e87f7"/><circle cx="161.8" cy="887.4" r="5.3" fill="#2e87f7"/><circle cx="180.4" cy="887.1" r="5.3" fill="#2e87f7"/><circle cx="199.0" cy="898.8" r="5.3" fill="#2e87f7"/><circle cx="217.5" cy="900.6" r="5.3" fill="#2e87f7"/><circle cx="254.3" cy="915.7" r="5.3" fill="#2e87f7"/><circle cx="291.7" cy="923.8" r="5.3" fill="#2e87f7"/><circle cx="384.4" cy="936.4" r="5.3" fill="#2e87f7"/><circle cx="477.2" cy="928.3" r="5.3" fill="#2e87f7"/><circle cx="569.9" cy="948.2" r="5.3" fill="#2e87f7"/><circle cx="98.6" cy="1042.8" r="5.3" fill="#2e87f7"/>
<path d="M98.8 899.5 L101.6 898.8 L105.3 897.7 L109.7 896.5 L114.6 895.1 L119.8 893.7 L125.1 892.5 L130.2 891.3 L135.0 890.5 L139.4 889.9 L143.8 889.5 L148.1 889.1 L152.4 888.9 L156.7 888.8 L161.3 888.7 L166.0 888.7 L171.0 888.7 L176.4 888.7 L182.1 888.9 L188.1 889.0 L194.2 889.2 L200.3 889.5 L206.3 889.9 L212.1 890.3 L217.5 890.7 L222.3 891.1 L226.5 891.6 L230.3 892.1 L234.1 892.6 L238.1 893.2 L242.6 894.0 L247.9 894.9 L254.3 896.1 L262.0 897.5 L271.0 899.2 L280.8 901.1 L291.1 903.2 L301.5 905.2 L311.7 907.3 L321.3 909.2 L330.0 911.0 L337.6 912.6 L344.2 914.0 L350.3 915.3 L356.1 916.6 L362.1 917.9 L368.6 919.4 L375.9 920.9 L384.4 922.7 L394.1 924.7 L404.8 926.9 L416.2 929.2 L428.2 931.6 L440.4 934.0 L452.8 936.5 L465.2 939.0 L477.2 941.4 L489.7 943.9 L503.3 946.7 L517.3 949.6 L531.2 952.4 L544.4 955.1 L556.2 957.5 L566.1 959.6 L573.6 961.1" stroke="#2e87f7" stroke-width="3" fill="none" stroke-linejoin="round"/>
<circle cx="109.9" cy="977.9" r="5.3" fill="#12b1d6"/><circle cx="113.7" cy="944.2" r="5.3" fill="#12b1d6"/><circle cx="121.1" cy="951.1" r="5.3" fill="#12b1d6"/><circle cx="128.4" cy="954.2" r="5.3" fill="#12b1d6"/><circle cx="135.8" cy="942.1" r="5.3" fill="#12b1d6"/><circle cx="143.3" cy="957.2" r="5.3" fill="#12b1d6"/><circle cx="152.6" cy="949.4" r="5.3" fill="#12b1d6"/><circle cx="161.8" cy="939.9" r="5.3" fill="#12b1d6"/><circle cx="180.3" cy="943.3" r="5.3" fill="#12b1d6"/><circle cx="198.9" cy="941.6" r="5.3" fill="#12b1d6"/><circle cx="217.4" cy="931.8" r="5.3" fill="#12b1d6"/><circle cx="254.6" cy="964.1" r="5.3" fill="#12b1d6"/><circle cx="291.8" cy="958.0" r="5.3" fill="#12b1d6"/><circle cx="384.4" cy="958.6" r="5.3" fill="#12b1d6"/><circle cx="477.2" cy="966.2" r="5.3" fill="#12b1d6"/><circle cx="569.9" cy="992.3" r="5.3" fill="#12b1d6"/><circle cx="101.0" cy="1080.0" r="5.3" fill="#12b1d6"/>
<path d="M99.5 964.6 L101.7 963.6 L104.6 962.4 L108.0 960.9 L111.9 959.2 L116.0 957.4 L120.2 955.5 L124.4 953.7 L128.4 952.0 L132.2 950.3 L135.9 948.5 L139.6 946.6 L143.4 944.8 L147.5 942.9 L151.8 941.2 L156.5 939.6 L161.8 938.2 L167.8 937.0 L174.6 935.8 L181.8 934.8 L189.4 933.8 L196.9 933.0 L204.3 932.3 L211.2 931.7 L217.4 931.2 L222.9 930.8 L228.0 930.6 L232.7 930.6 L237.2 930.6 L241.5 930.7 L245.7 930.9 L250.1 931.0 L254.6 931.2 L259.2 931.4 L263.9 931.6 L268.5 931.9 L273.1 932.3 L277.8 932.6 L282.4 933.0 L287.1 933.4 L291.8 933.8 L296.6 934.2 L301.5 934.6 L306.4 935.0 L311.4 935.4 L316.2 935.9 L321.0 936.3 L325.6 936.8 L330.0 937.3 L332.9 937.6 L333.8 937.7 L333.8 937.7 L334.0 937.7 L335.7 938.0 L339.8 938.7 L347.5 939.9 L360.0 941.8 L379.4 944.7 L405.5 948.7 L436.0 953.4 L468.7 958.3 L501.1 963.3 L530.9 967.8 L555.9 971.6 L573.6 974.3" stroke="#12b1d6" stroke-width="3" fill="none" stroke-linejoin="round"/>
<circle cx="109.9" cy="999.9" r="5.3" fill="#37c897"/><circle cx="113.7" cy="1006.5" r="5.3" fill="#37c897"/><circle cx="121.1" cy="1007.3" r="5.3" fill="#37c897"/><circle cx="128.4" cy="995.2" r="5.3" fill="#37c897"/><circle cx="135.8" cy="987.4" r="5.3" fill="#37c897"/><circle cx="143.3" cy="1014.2" r="5.3" fill="#37c897"/><circle cx="152.6" cy="989.2" r="5.3" fill="#37c897"/><circle cx="161.8" cy="973.3" r="5.3" fill="#37c897"/><circle cx="180.3" cy="980.2" r="5.3" fill="#37c897"/><circle cx="198.9" cy="952.9" r="5.3" fill="#37c897"/><circle cx="217.4" cy="962.0" r="5.3" fill="#37c897"/><circle cx="254.6" cy="977.1" r="5.3" fill="#37c897"/><circle cx="291.8" cy="952.5" r="5.3" fill="#37c897"/><circle cx="384.4" cy="978.0" r="5.3" fill="#37c897"/><circle cx="477.2" cy="1005.3" r="5.3" fill="#37c897"/><circle cx="569.9" cy="993.2" r="5.3" fill="#37c897"/><circle cx="106.4" cy="1081.7" r="5.3" fill="#37c897"/>
<path d="M99.5 1013.4 L102.6 1012.0 L106.8 1010.0 L111.7 1007.7 L117.2 1005.1 L123.0 1002.4 L128.9 999.7 L134.7 997.2 L140.0 995.0 L145.1 993.0 L150.2 991.0 L155.3 989.1 L160.4 987.3 L165.5 985.6 L170.5 983.9 L175.4 982.4 L180.3 981.0 L185.1 979.7 L189.7 978.6 L194.3 977.6 L198.8 976.7 L203.3 975.8 L207.8 975.0 L212.4 974.3 L217.0 973.5 L221.7 972.7 L226.3 972.0 L231.1 971.3 L235.8 970.7 L240.5 970.1 L245.2 969.5 L249.9 969.0 L254.6 968.5 L259.3 968.1 L263.9 967.6 L268.5 967.3 L273.2 966.9 L277.8 966.6 L282.4 966.4 L287.1 966.2 L291.8 966.0 L296.4 965.9 L300.9 965.8 L305.3 965.7 L309.8 965.7 L314.4 965.7 L319.3 965.8 L324.4 965.9 L330.0 966.0 L335.8 966.2 L341.6 966.3 L347.5 966.5 L353.8 966.7 L360.5 967.0 L367.7 967.4 L375.7 967.9 L384.4 968.5 L394.1 969.3 L404.8 970.2 L416.2 971.2 L428.1 972.3 L440.3 973.4 L452.7 974.6 L465.0 975.8 L477.0 977.0 L489.5 978.3 L503.1 979.7 L517.2 981.2 L531.1 982.7 L544.3 984.1 L556.1 985.4 L566.1 986.5 L573.6 987.3" stroke="#37c897" stroke-width="3" fill="none" stroke-linejoin="round"/>
<circle cx="98.6" cy="1099.0" r="5.3" fill="#abc739"/><circle cx="103.0" cy="1097.0" r="5.3" fill="#abc739"/><circle cx="113.7" cy="1037.6" r="5.3" fill="#abc739"/><circle cx="121.1" cy="1031.5" r="5.3" fill="#abc739"/><circle cx="128.4" cy="1009.6" r="5.3" fill="#abc739"/><circle cx="135.8" cy="1030.0" r="5.3" fill="#abc739"/><circle cx="143.3" cy="993.5" r="5.3" fill="#abc739"/><circle cx="152.6" cy="1015.5" r="5.3" fill="#abc739"/><circle cx="161.8" cy="1025.5" r="5.3" fill="#abc739"/><circle cx="180.3" cy="1011.3" r="5.3" fill="#abc739"/><circle cx="198.9" cy="992.3" r="5.3" fill="#abc739"/><circle cx="217.4" cy="996.1" r="5.3" fill="#abc739"/><circle cx="254.6" cy="975.3" r="5.3" fill="#abc739"/><circle cx="291.8" cy="971.9" r="5.3" fill="#abc739"/><circle cx="384.4" cy="1004.0" r="5.3" fill="#abc739"/><circle cx="477.2" cy="970.4" r="5.3" fill="#abc739"/><circle cx="569.9" cy="1046.8" r="5.3" fill="#abc739"/>
<path d="M99.5 1033.3 L102.6 1032.6 L106.8 1031.6 L111.7 1030.5 L117.2 1029.3 L123.0 1027.9 L128.9 1026.6 L134.7 1025.2 L140.0 1024.0 L145.1 1022.8 L150.2 1021.5 L155.3 1020.3 L160.4 1019.0 L165.5 1017.8 L170.5 1016.5 L175.4 1015.4 L180.3 1014.2 L185.1 1013.1 L189.7 1012.0 L194.3 1010.9 L198.8 1009.9 L203.3 1008.9 L207.8 1007.9 L212.4 1006.9 L217.0 1006.0 L221.7 1005.1 L226.3 1004.2 L231.1 1003.3 L235.8 1002.5 L240.5 1001.7 L245.2 1000.9 L249.9 1000.2 L254.6 999.5 L259.3 998.9 L263.9 998.3 L268.5 997.7 L273.2 997.2 L277.8 996.7 L282.4 996.3 L287.1 995.9 L291.8 995.5 L296.4 995.1 L300.9 994.8 L305.3 994.6 L309.8 994.3 L314.4 994.1 L319.3 993.9 L324.4 993.7 L330.0 993.5 L335.8 993.3 L341.6 993.1 L347.5 992.9 L353.8 992.7 L360.5 992.6 L367.7 992.5 L375.7 992.5 L384.4 992.5 L394.1 992.6 L404.8 992.8 L416.2 993.0 L428.1 993.3 L440.3 993.7 L452.7 994.1 L465.0 994.5 L477.0 995.0 L489.5 995.6 L503.1 996.4 L517.2 997.2 L531.1 998.1 L544.3 998.9 L556.1 999.7 L566.1 1000.3 L573.6 1000.8" stroke="#abc739" stroke-width="3" fill="none" stroke-linejoin="round"/>
<circle cx="102.1" cy="1116.3" r="5.3" fill="#fec338"/><circle cx="98.6" cy="1087.4" r="5.3" fill="#fec338"/><circle cx="106.4" cy="1083.9" r="5.3" fill="#fec338"/><circle cx="109.9" cy="1050.6" r="5.3" fill="#fec338"/><circle cx="113.7" cy="1064.4" r="5.3" fill="#fec338"/><circle cx="121.1" cy="1064.4" r="5.3" fill="#fec338"/><circle cx="143.3" cy="1049.7" r="5.3" fill="#fec338"/><circle cx="152.6" cy="1024.6" r="5.3" fill="#fec338"/><circle cx="161.8" cy="1045.4" r="5.3" fill="#fec338"/><circle cx="180.3" cy="1052.8" r="5.3" fill="#fec338"/><circle cx="198.9" cy="1035.9" r="5.3" fill="#fec338"/><circle cx="217.4" cy="1022.0" r="5.3" fill="#fec338"/><circle cx="254.6" cy="1009.0" r="5.3" fill="#fec338"/><circle cx="291.8" cy="987.1" r="5.3" fill="#fec338"/><circle cx="384.4" cy="1002.4" r="5.3" fill="#fec338"/><circle cx="477.2" cy="987.3" r="5.3" fill="#fec338"/><circle cx="569.9" cy="1000.8" r="5.3" fill="#fec338"/>
<path d="M99.5 1037.6 L102.6 1037.4 L106.8 1037.1 L111.7 1036.7 L117.2 1036.3 L123.0 1035.9 L128.9 1035.4 L134.7 1035.0 L140.0 1034.5 L145.1 1034.0 L150.2 1033.6 L155.3 1033.1 L160.4 1032.6 L165.4 1032.1 L170.5 1031.6 L175.4 1031.1 L180.3 1030.5 L185.1 1029.9 L189.8 1029.3 L194.4 1028.7 L199.0 1028.0 L203.6 1027.4 L208.2 1026.8 L212.8 1026.1 L217.4 1025.5 L222.0 1024.9 L226.7 1024.3 L231.3 1023.7 L236.0 1023.1 L240.6 1022.5 L245.3 1021.9 L249.9 1021.3 L254.6 1020.8 L259.2 1020.3 L263.9 1019.8 L268.5 1019.3 L273.1 1018.8 L277.8 1018.3 L282.4 1017.8 L287.1 1017.4 L291.8 1017.0 L296.4 1016.6 L300.9 1016.3 L305.3 1016.0 L309.8 1015.7 L314.4 1015.4 L319.3 1015.1 L324.4 1014.8 L330.0 1014.5 L335.8 1014.2 L341.6 1013.8 L347.5 1013.5 L353.8 1013.2 L360.5 1012.8 L367.7 1012.5 L375.7 1012.3 L384.4 1012.0 L394.1 1011.8 L404.8 1011.5 L416.2 1011.3 L428.1 1011.1 L440.3 1010.9 L452.7 1010.8 L465.0 1010.8 L477.0 1010.8 L489.5 1011.0 L503.1 1011.2 L517.2 1011.6 L531.1 1012.0 L544.3 1012.4 L556.1 1012.8 L566.1 1013.2 L573.6 1013.4" stroke="#fec338" stroke-width="3" fill="none" stroke-linejoin="round"/>
<rect x="91.5" y="640.5" width="482.1" height="480.79999999999995" fill="none" stroke="#231f20" stroke-width="2"/>
<path d="M91.5 1073.1h4.2 M91.5 1044.8h4.2 M91.5 1024.8h4.2 M91.5 1009.3h4.2 M91.5 996.6h4.2 M91.5 985.9h4.2 M91.5 976.6h4.2 M91.5 968.4h4.2 M91.5 961.0h5 M91.5 912.8h4.2 M91.5 884.6h4.2 M91.5 864.5h4.2 M91.5 849.0h4.2 M91.5 836.3h4.2 M91.5 825.6h4.2 M91.5 816.3h4.2 M91.5 808.1h4.2 M91.5 800.8h5 M91.5 752.5h4.2 M91.5 724.3h4.2 M91.5 704.3h4.2 M91.5 688.7h4.2 M91.5 676.1h4.2 M91.5 665.3h4.2 M91.5 656.0h4.2 M91.5 647.8h4.2 M110.2 1121.3v-5.5 M202.7 1121.3v-5.5 M295.2 1121.3v-5.5 M387.7 1121.3v-5.5 M480.2 1121.3v-5.5" stroke="#231f20" stroke-width="2" fill="none"/>
<path d="M405.6 663.6H430.7" stroke="#3e26a8" stroke-width="3"/>
<path d="M405.6 690.6H430.7" stroke="#4852f4" stroke-width="3"/>
<path d="M405.6 717.6H430.7" stroke="#2e87f7" stroke-width="3"/>
<path d="M405.6 744.6H430.7" stroke="#12b1d6" stroke-width="3"/>
<path d="M405.6 771.6H430.7" stroke="#37c897" stroke-width="3"/>
<path d="M405.6 798.6H430.7" stroke="#abc739" stroke-width="3"/>
<path d="M405.6 825.6H430.7" stroke="#fec338" stroke-width="3"/>
<circle cx="741.4" cy="736.3" r="5.3" fill="#3e26a8"/><circle cx="745.3" cy="726.6" r="5.3" fill="#3e26a8"/><circle cx="752.5" cy="733.4" r="5.3" fill="#3e26a8"/><circle cx="760.0" cy="735.4" r="5.3" fill="#3e26a8"/><circle cx="767.4" cy="739.3" r="5.3" fill="#3e26a8"/><circle cx="774.8" cy="742.5" r="5.3" fill="#3e26a8"/><circle cx="783.7" cy="747.6" r="5.3" fill="#3e26a8"/><circle cx="793.2" cy="752.6" r="5.3" fill="#3e26a8"/><circle cx="811.7" cy="761.0" r="5.3" fill="#3e26a8"/><circle cx="830.5" cy="769.1" r="5.3" fill="#3e26a8"/><circle cx="848.7" cy="777.9" r="5.3" fill="#3e26a8"/><circle cx="885.8" cy="795.8" r="5.3" fill="#3e26a8"/><circle cx="922.7" cy="809.6" r="5.3" fill="#3e26a8"/><circle cx="1015.3" cy="850.6" r="5.3" fill="#3e26a8"/><circle cx="1107.5" cy="880.6" r="5.3" fill="#3e26a8"/><circle cx="1199.9" cy="916.3" r="5.3" fill="#3e26a8"/><circle cx="729.6" cy="1090.0" r="5.3" fill="#3e26a8"/>
<path d="M730.1 719.4 L811.7 761.0 L885.8 795.8 L922.7 808.0 L1015.3 833.0 L1107.5 858.5 L1203.8 884.3" stroke="#3e26a8" stroke-width="3" fill="none" stroke-linejoin="round"/>
<circle cx="741.4" cy="787.7" r="5.3" fill="#4852f4"/><circle cx="745.3" cy="775.9" r="5.3" fill="#4852f4"/><circle cx="752.5" cy="778.4" r="5.3" fill="#4852f4"/><circle cx="760.0" cy="780.1" r="5.3" fill="#4852f4"/><circle cx="767.4" cy="781.8" r="5.3" fill="#4852f4"/><circle cx="774.8" cy="784.3" r="5.3" fill="#4852f4"/><circle cx="783.7" cy="786.3" r="5.3" fill="#4852f4"/><circle cx="793.2" cy="788.5" r="5.3" fill="#4852f4"/><circle cx="811.7" cy="790.2" r="5.3" fill="#4852f4"/><circle cx="830.5" cy="796.5" r="5.3" fill="#4852f4"/><circle cx="848.7" cy="801.2" r="5.3" fill="#4852f4"/><circle cx="885.8" cy="812.1" r="5.3" fill="#4852f4"/><circle cx="922.7" cy="820.1" r="5.3" fill="#4852f4"/><circle cx="1015.3" cy="846.0" r="5.3" fill="#4852f4"/><circle cx="1107.5" cy="866.6" r="5.3" fill="#4852f4"/><circle cx="1199.9" cy="887.0" r="5.3" fill="#4852f4"/><circle cx="729.6" cy="1044.4" r="5.3" fill="#4852f4"/><circle cx="730.2" cy="1052.8" r="5.3" fill="#4852f4"/><circle cx="733.9" cy="1096.5" r="5.3" fill="#4852f4"/>
<path d="M730.1 782.1 L745.3 779.3 L783.7 785.5 L848.7 800.5 L922.7 820.5 L990.0 838.8 L1203.8 891.9" stroke="#4852f4" stroke-width="3" fill="none" stroke-linejoin="round"/>
<circle cx="741.4" cy="841.7" r="5.3" fill="#2e87f7"/><circle cx="745.3" cy="830.2" r="5.3" fill="#2e87f7"/><circle cx="752.5" cy="829.0" r="5.3" fill="#2e87f7"/><circle cx="760.0" cy="823.9" r="5.3" fill="#2e87f7"/><circle cx="767.4" cy="820.1" r="5.3" fill="#2e87f7"/><circle cx="774.8" cy="816.9" r="5.3" fill="#2e87f7"/><circle cx="783.7" cy="813.3" r="5.3" fill="#2e87f7"/><circle cx="793.2" cy="821.4" r="5.3" fill="#2e87f7"/><circle cx="811.7" cy="816.4" r="5.3" fill="#2e87f7"/><circle cx="830.5" cy="819.7" r="5.3" fill="#2e87f7"/><circle cx="848.7" cy="818.9" r="5.3" fill="#2e87f7"/><circle cx="885.8" cy="823.1" r="5.3" fill="#2e87f7"/><circle cx="922.7" cy="828.5" r="5.3" fill="#2e87f7"/><circle cx="1015.3" cy="844.2" r="5.3" fill="#2e87f7"/><circle cx="1107.5" cy="859.3" r="5.3" fill="#2e87f7"/><circle cx="1199.9" cy="885.6" r="5.3" fill="#2e87f7"/><circle cx="737.3" cy="1017.5" r="5.3" fill="#2e87f7"/><circle cx="733.9" cy="1098.0" r="5.3" fill="#2e87f7"/>
<path d="M730.1 844.7 L752.5 829.5 L783.7 816.4 L830.5 818.0 L885.8 825.0 L922.7 832.0 L990.0 849.7 L1203.8 899.1" stroke="#2e87f7" stroke-width="3" fill="none" stroke-linejoin="round"/>
<circle cx="741.7" cy="905.0" r="5.3" fill="#12b1d6"/><circle cx="745.3" cy="896.5" r="5.3" fill="#12b1d6"/><circle cx="752.5" cy="887.2" r="5.3" fill="#12b1d6"/><circle cx="760.0" cy="875.7" r="5.3" fill="#12b1d6"/><circle cx="767.4" cy="877.9" r="5.3" fill="#12b1d6"/><circle cx="774.8" cy="864.9" r="5.3" fill="#12b1d6"/><circle cx="783.7" cy="860.5" r="5.3" fill="#12b1d6"/><circle cx="793.2" cy="852.6" r="5.3" fill="#12b1d6"/><circle cx="811.7" cy="847.6" r="5.3" fill="#12b1d6"/><circle cx="830.5" cy="845.9" r="5.3" fill="#12b1d6"/><circle cx="848.7" cy="846.7" r="5.3" fill="#12b1d6"/><circle cx="885.8" cy="844.5" r="5.3" fill="#12b1d6"/><circle cx="922.7" cy="845.5" r="5.3" fill="#12b1d6"/><circle cx="1015.3" cy="863.7" r="5.3" fill="#12b1d6"/><circle cx="1107.5" cy="875.5" r="5.3" fill="#12b1d6"/><circle cx="1199.9" cy="896.4" r="5.3" fill="#12b1d6"/><circle cx="733.9" cy="1028.0" r="5.3" fill="#12b1d6"/><circle cx="730.2" cy="1058.4" r="5.3" fill="#12b1d6"/>
<path d="M730.1 925.5 L737.1 910.7 L752.8 887.5 L764.9 874.5 L776.0 867.1 L789.9 861.5 L810.3 855.0 L829.8 852.3 L848.4 850.9 L885.8 852.6 L922.7 856.8 L990.0 867.4 L1203.8 909.6" stroke="#12b1d6" stroke-width="3" fill="none" stroke-linejoin="round"/>
<circle cx="741.7" cy="970.7" r="5.3" fill="#37c897"/><circle cx="745.0" cy="984.0" r="5.3" fill="#37c897"/><circle cx="752.5" cy="962.3" r="5.3" fill="#37c897"/><circle cx="760.3" cy="956.7" r="5.3" fill="#37c897"/><circle cx="767.7" cy="938.1" r="5.3" fill="#37c897"/><circle cx="775.4" cy="936.9" r="5.3" fill="#37c897"/><circle cx="784.1" cy="920.4" r="5.3" fill="#37c897"/><circle cx="793.4" cy="906.5" r="5.3" fill="#37c897"/><circle cx="811.7" cy="893.5" r="5.3" fill="#37c897"/><circle cx="830.0" cy="890.1" r="5.3" fill="#37c897"/><circle cx="848.3" cy="887.9" r="5.3" fill="#37c897"/><circle cx="885.5" cy="877.7" r="5.3" fill="#37c897"/><circle cx="922.7" cy="882.3" r="5.3" fill="#37c897"/><circle cx="1015.3" cy="890.2" r="5.3" fill="#37c897"/><circle cx="1107.5" cy="904.2" r="5.3" fill="#37c897"/><circle cx="1199.9" cy="918.8" r="5.3" fill="#37c897"/><circle cx="730.2" cy="1068.3" r="5.3" fill="#37c897"/><circle cx="733.9" cy="1082.6" r="5.3" fill="#37c897"/>
<path d="M730.2 1011.9 L741.7 984.0 L755.0 955.0 L768.6 933.0 L777.0 921.8 L788.1 911.6 L799.2 904.2 L812.2 898.6 L827.0 893.1 L848.4 887.5 L885.5 881.1 L922.7 881.1 L990.0 886.8 L1015.3 890.2 L1107.5 904.2 L1203.8 920.0" stroke="#37c897" stroke-width="3" fill="none" stroke-linejoin="round"/>
<circle cx="741.7" cy="1001.7" r="5.3" fill="#abc739"/><circle cx="752.5" cy="1033.0" r="5.3" fill="#abc739"/><circle cx="760.3" cy="1054.7" r="5.3" fill="#abc739"/><circle cx="767.7" cy="1018.7" r="5.3" fill="#abc739"/><circle cx="775.4" cy="977.2" r="5.3" fill="#abc739"/><circle cx="784.1" cy="982.4" r="5.3" fill="#abc739"/><circle cx="793.4" cy="962.3" r="5.3" fill="#abc739"/><circle cx="811.7" cy="955.0" r="5.3" fill="#abc739"/><circle cx="830.0" cy="944.3" r="5.3" fill="#abc739"/><circle cx="848.3" cy="936.9" r="5.3" fill="#abc739"/><circle cx="885.5" cy="922.0" r="5.3" fill="#abc739"/><circle cx="922.7" cy="922.0" r="5.3" fill="#abc739"/><circle cx="1015.3" cy="920.0" r="5.3" fill="#abc739"/><circle cx="1107.5" cy="935.7" r="5.3" fill="#abc739"/><circle cx="1199.9" cy="949.2" r="5.3" fill="#abc739"/><circle cx="733.9" cy="1042.9" r="5.3" fill="#abc739"/><circle cx="737.9" cy="1068.3" r="5.3" fill="#abc739"/><circle cx="741.7" cy="1047.5" r="5.3" fill="#abc739"/>
<path d="M730.2 1070.8 L767.7 1008.8 L793.4 966.9 L830.0 936.9 L848.3 927.6 L885.5 915.8 L922.7 910.5 L1015.3 910.4 L1107.5 920.5 L1203.8 934.5" stroke="#abc739" stroke-width="3" fill="none" stroke-linejoin="round"/>
<circle cx="730.2" cy="1091.9" r="5.3" fill="#fec338"/><circle cx="741.7" cy="1040.7" r="5.3" fill="#fec338"/><circle cx="760.3" cy="1040.7" r="5.3" fill="#fec338"/><circle cx="767.7" cy="1068.3" r="5.3" fill="#fec338"/><circle cx="775.4" cy="1011.9" r="5.3" fill="#fec338"/><circle cx="784.1" cy="1026.5" r="5.3" fill="#fec338"/><circle cx="793.4" cy="1003.5" r="5.3" fill="#fec338"/><circle cx="811.7" cy="956.1" r="5.3" fill="#fec338"/><circle cx="830.0" cy="1006.3" r="5.3" fill="#fec338"/><circle cx="848.3" cy="984.9" r="5.3" fill="#fec338"/><circle cx="885.5" cy="943.7" r="5.3" fill="#fec338"/><circle cx="922.7" cy="949.0" r="5.3" fill="#fec338"/><circle cx="1015.3" cy="946.3" r="5.3" fill="#fec338"/><circle cx="1107.5" cy="947.5" r="5.3" fill="#fec338"/><circle cx="1199.9" cy="982.1" r="5.3" fill="#fec338"/>
<path d="M730.2 1090.0 L745.7 1085.0 L760.3 1074.0 L773.6 1056.0 L786.0 1037.0 L798.4 1021.0 L811.7 1006.0 L829.4 990.0 L848.3 975.0 L885.5 954.5 L922.7 943.7 L1015.3 934.9 L1107.5 939.9 L1203.8 950.0" stroke="#fec338" stroke-width="3" fill="none" stroke-linejoin="round"/>
<rect x="723.5" y="640.5" width="480.4000000000001" height="481.29999999999995" fill="none" stroke="#231f20" stroke-width="2"/>
<path d="M723.5 1073.5h4.2 M723.5 1045.3h4.2 M723.5 1025.2h4.2 M723.5 1009.7h4.2 M723.5 997.0h4.2 M723.5 986.2h4.2 M723.5 976.9h4.2 M723.5 968.7h4.2 M723.5 961.4h5 M723.5 913.1h4.2 M723.5 884.8h4.2 M723.5 864.8h4.2 M723.5 849.2h4.2 M723.5 836.5h4.2 M723.5 825.8h4.2 M723.5 816.5h4.2 M723.5 808.3h4.2 M723.5 800.9h5 M723.5 752.6h4.2 M723.5 724.4h4.2 M723.5 704.3h4.2 M723.5 688.8h4.2 M723.5 676.1h4.2 M723.5 665.4h4.2 M723.5 656.0h4.2 M723.5 647.8h4.2 M740.6 1121.8v-5.5 M833.1 1121.8v-5.5 M925.6 1121.8v-5.5 M1018.1 1121.8v-5.5 M1110.6 1121.8v-5.5" stroke="#231f20" stroke-width="2" fill="none"/>
<path d="M1038 663.4H1062.8" stroke="#3e26a8" stroke-width="3"/>
<path d="M1038 690.4H1062.8" stroke="#4852f4" stroke-width="3"/>
<path d="M1038 717.4H1062.8" stroke="#2e87f7" stroke-width="3"/>
<path d="M1038 744.4H1062.8" stroke="#12b1d6" stroke-width="3"/>
<path d="M1038 771.4H1062.8" stroke="#37c897" stroke-width="3"/>
<path d="M1038 798.4H1062.8" stroke="#abc739" stroke-width="3"/>
<path d="M1038 825.4H1062.8" stroke="#fec338" stroke-width="3"/>
<rect x="1356.3" y="638.0" width="633.7" height="483.79999999999995" fill="none" stroke="#231f20" stroke-width="2"/>
<path d="M1462.0 1121.8v-7 M1567.6 1121.8v-7 M1673.2 1121.8v-7 M1778.9 1121.8v-7 M1884.5 1121.8v-7 M1990.2 1121.8v-7 M1356.3 1025.0h7 M1356.3 928.3h7 M1356.3 831.5h7 M1356.3 734.8h7 M1356.3 638.0h7 M1481.5 638.0v7 M1607.2 638.0v7 M1736.2 638.0v7 M1861.8 638.0v7" stroke="#231f20" stroke-width="2" fill="none"/>
<path d="M1395.6 1062.1V1093.7M1389.3 1062.1h12.6M1389.3 1093.7h12.6 M1435.1 1073.9V1096.8M1428.8 1073.9h12.6M1428.8 1096.8h12.6 M1494.8 1066.0V1088.2M1488.5 1066.0h12.6M1488.5 1088.2h12.6 M1554.4 1034.0V1059.7M1548.1 1034.0h12.6M1548.1 1059.7h12.6 M1613.6 996.1V1020.6M1607.3 996.1h12.6M1607.3 1020.6h12.6 M1673.7 1013.1V1030.1M1667.4 1013.1h12.6M1667.4 1030.1h12.6 M1713.2 974.0V996.5M1706.9 974.0h12.6M1706.9 996.5h12.6 M1733.3 990.6V1016.3M1727.0 990.6h12.6M1727.0 1016.3h12.6 M1753.1 993.0V1015.1M1746.8 993.0h12.6M1746.8 1015.1h12.6 M1773.2 964.5V993.4M1766.9 964.5h12.6M1766.9 993.4h12.6 M1792.5 943.6V977.6M1786.2 943.6h12.6M1786.2 977.6h12.6 M1832.4 913.2V952.7M1826.1 913.2h12.6M1826.1 952.7h12.6 M1872.3 764.6V833.7M1866.0 764.6h12.6M1866.0 833.7h12.6" stroke="#000" stroke-width="2.4" fill="none"/>
<circle cx="1395.6" cy="1078.3" r="5.3" fill="#000"/><circle cx="1435.1" cy="1085.4" r="5.3" fill="#000"/><circle cx="1494.8" cy="1077.1" r="5.3" fill="#000"/><circle cx="1554.4" cy="1046.7" r="5.3" fill="#000"/><circle cx="1613.6" cy="1008.4" r="5.3" fill="#000"/><circle cx="1673.7" cy="1022.2" r="5.3" fill="#000"/><circle cx="1713.2" cy="985.1" r="5.3" fill="#000"/><circle cx="1733.3" cy="1003.6" r="5.3" fill="#000"/><circle cx="1753.1" cy="1003.6" r="5.3" fill="#000"/><circle cx="1773.2" cy="979.1" r="5.3" fill="#000"/><circle cx="1792.5" cy="961.0" r="5.3" fill="#000"/><circle cx="1832.4" cy="933.3" r="5.3" fill="#000"/><circle cx="1872.3" cy="799.4" r="5.3" fill="#000"/>
<text x="-1.5" y="19.5" font-size="36" font-weight="bold">a</text>
<text x="2.3" y="567.5" font-size="34" textLength="25.0" lengthAdjust="spacingAndGlyphs" font-weight="bold">b</text>
<text x="610.2" y="577.0" font-size="34" textLength="22.5" lengthAdjust="spacingAndGlyphs" font-weight="bold">c</text>
<text x="1222.2" y="570.2" font-size="34" textLength="24.1" lengthAdjust="spacingAndGlyphs" font-weight="bold">d</text>
<text x="198.2" y="55.3" font-size="28.5" text-anchor="middle" textLength="134.5" lengthAdjust="spacingAndGlyphs">p/p<tspan font-size="16" dy="8.5">0</tspan><tspan dy="-8.5"> = 0.10</tspan></text>
<text x="76.6" y="455.1" font-size="24.3" text-anchor="middle">0</text>
<text x="177.8" y="455.1" font-size="24.3" text-anchor="middle">0.5</text>
<text x="276.8" y="455.1" font-size="24.3" text-anchor="middle">1</text>
<text x="193.2" y="494.6" font-size="28.3" text-anchor="middle" textLength="119.5" lengthAdjust="spacingAndGlyphs">Delay (μs)</text>
<text x="459.7" y="55.3" font-size="28.5" text-anchor="middle" textLength="134.5" lengthAdjust="spacingAndGlyphs">p/p<tspan font-size="16" dy="8.5">0</tspan><tspan dy="-8.5"> = 0.35</tspan></text>
<text x="338.2" y="455.1" font-size="24.3" text-anchor="middle">0</text>
<text x="439.4" y="455.1" font-size="24.3" text-anchor="middle">0.5</text>
<text x="538.4" y="455.1" font-size="24.3" text-anchor="middle">1</text>
<text x="454.8" y="494.6" font-size="28.3" text-anchor="middle" textLength="119.5" lengthAdjust="spacingAndGlyphs">Delay (μs)</text>
<text x="721.2" y="55.3" font-size="28.5" text-anchor="middle" textLength="134.5" lengthAdjust="spacingAndGlyphs">p/p<tspan font-size="16" dy="8.5">0</tspan><tspan dy="-8.5"> = 0.65</tspan></text>
<text x="599.7" y="455.1" font-size="24.3" text-anchor="middle">0</text>
<text x="700.9" y="455.1" font-size="24.3" text-anchor="middle">0.5</text>
<text x="799.9" y="455.1" font-size="24.3" text-anchor="middle">1</text>
<text x="716.3" y="494.6" font-size="28.3" text-anchor="middle" textLength="119.5" lengthAdjust="spacingAndGlyphs">Delay (μs)</text>
<text x="982.8" y="55.3" font-size="28.5" text-anchor="middle" textLength="134.5" lengthAdjust="spacingAndGlyphs">p/p<tspan font-size="16" dy="8.5">0</tspan><tspan dy="-8.5"> = 0.90</tspan></text>
<text x="861.3" y="455.1" font-size="24.3" text-anchor="middle">0</text>
<text x="962.5" y="455.1" font-size="24.3" text-anchor="middle">0.5</text>
<text x="1061.5" y="455.1" font-size="24.3" text-anchor="middle">1</text>
<text x="977.9" y="494.6" font-size="28.3" text-anchor="middle" textLength="119.5" lengthAdjust="spacingAndGlyphs">Delay (μs)</text>
<text x="1244.4" y="55.3" font-size="28.5" text-anchor="middle" textLength="134.5" lengthAdjust="spacingAndGlyphs">p/p<tspan font-size="16" dy="8.5">0</tspan><tspan dy="-8.5"> = 1.00</tspan></text>
<text x="1122.8" y="455.1" font-size="24.3" text-anchor="middle">0</text>
<text x="1224.0" y="455.1" font-size="24.3" text-anchor="middle">0.5</text>
<text x="1323.0" y="455.1" font-size="24.3" text-anchor="middle">1</text>
<text x="1239.4" y="494.6" font-size="28.3" text-anchor="middle" textLength="119.5" lengthAdjust="spacingAndGlyphs">Delay (μs)</text>
<text x="1505.9" y="55.3" font-size="28.5" text-anchor="middle" textLength="134.5" lengthAdjust="spacingAndGlyphs">p/p<tspan font-size="16" dy="8.5">0</tspan><tspan dy="-8.5"> = 1.10</tspan></text>
<text x="1384.3" y="455.1" font-size="24.3" text-anchor="middle">0</text>
<text x="1485.5" y="455.1" font-size="24.3" text-anchor="middle">0.5</text>
<text x="1584.5" y="455.1" font-size="24.3" text-anchor="middle">1</text>
<text x="1501.0" y="494.6" font-size="28.3" text-anchor="middle" textLength="119.5" lengthAdjust="spacingAndGlyphs">Delay (μs)</text>
<text x="1767.5" y="55.3" font-size="28.5" text-anchor="middle" textLength="134.5" lengthAdjust="spacingAndGlyphs">p/p<tspan font-size="16" dy="8.5">0</tspan><tspan dy="-8.5"> = 1.30</tspan></text>
<text x="1645.9" y="455.1" font-size="24.3" text-anchor="middle">0</text>
<text x="1747.1" y="455.1" font-size="24.3" text-anchor="middle">0.5</text>
<text x="1846.1" y="455.1" font-size="24.3" text-anchor="middle">1</text>
<text x="1762.5" y="494.6" font-size="28.3" text-anchor="middle" textLength="119.5" lengthAdjust="spacingAndGlyphs">Delay (μs)</text>
<text x="64.4" y="440.0" font-size="23.6" text-anchor="end">0</text>
<text x="64.4" y="348.7" font-size="23.6" text-anchor="end">1</text>
<text x="64.4" y="257.4" font-size="23.6" text-anchor="end">2</text>
<text x="64.4" y="166.0" font-size="23.6" text-anchor="end">3</text>
<text x="64.4" y="74.7" font-size="23.6" text-anchor="end">4</text>
<text x="0" y="0" font-size="28.5" text-anchor="middle" textLength="92.0" lengthAdjust="spacingAndGlyphs" transform="translate(36.9,250.2) rotate(-90)"><tspan>Δ</tspan><tspan font-style="italic">x</tspan> (μm)</text>
<text x="1921.5" y="163.0" font-size="25.4">10<tspan font-size="14.4" dy="-7.75">-3</tspan></text>
<text x="1921.5" y="345.0" font-size="25.4">10<tspan font-size="14.4" dy="-7.75">-4</tspan></text>
<text x="0" y="0" font-size="27.5" text-anchor="middle" textLength="278.0" lengthAdjust="spacingAndGlyphs" transform="translate(1973.3,253.0) rotate(90)">Circular dichroic signal</text>
<text x="337.5" y="625.0" font-size="28.8" text-anchor="middle" textLength="120.0" lengthAdjust="spacingAndGlyphs">p/p<tspan font-size="16" dy="8.5">0</tspan><tspan dy="-8.5"> = 0.5</tspan></text>
<text x="965.0" y="620.8" font-size="28.8" text-anchor="middle" textLength="93.3" lengthAdjust="spacingAndGlyphs">p/p<tspan font-size="16" dy="8.5">0</tspan><tspan dy="-8.5"> = 1</tspan></text>
<text x="437.4" y="670.6" font-size="21.5" textLength="105.6" lengthAdjust="spacingAndGlyphs"><tspan>Δ</tspan><tspan font-style="italic">x</tspan> = 0 μm</text>
<text x="1069.3" y="670.4" font-size="21.5" textLength="105.6" lengthAdjust="spacingAndGlyphs"><tspan>Δ</tspan><tspan font-style="italic">x</tspan> = 0 μm</text>
<text x="437.4" y="697.6" font-size="21.5" textLength="105.6" lengthAdjust="spacingAndGlyphs"><tspan>Δ</tspan><tspan font-style="italic">x</tspan> = 1 μm</text>
<text x="1069.3" y="697.4" font-size="21.5" textLength="105.6" lengthAdjust="spacingAndGlyphs"><tspan>Δ</tspan><tspan font-style="italic">x</tspan> = 1 μm</text>
<text x="437.4" y="724.6" font-size="21.5" textLength="124.9" lengthAdjust="spacingAndGlyphs"><tspan>Δ</tspan><tspan font-style="italic">x</tspan> = 1.5 μm</text>
<text x="1069.3" y="724.4" font-size="21.5" textLength="124.9" lengthAdjust="spacingAndGlyphs"><tspan>Δ</tspan><tspan font-style="italic">x</tspan> = 1.5 μm</text>
<text x="437.4" y="751.6" font-size="21.5" textLength="105.6" lengthAdjust="spacingAndGlyphs"><tspan>Δ</tspan><tspan font-style="italic">x</tspan> = 2 μm</text>
<text x="1069.3" y="751.4" font-size="21.5" textLength="105.6" lengthAdjust="spacingAndGlyphs"><tspan>Δ</tspan><tspan font-style="italic">x</tspan> = 2 μm</text>
<text x="437.4" y="778.6" font-size="21.5" textLength="124.9" lengthAdjust="spacingAndGlyphs"><tspan>Δ</tspan><tspan font-style="italic">x</tspan> = 2.5 μm</text>
<text x="1069.3" y="778.4" font-size="21.5" textLength="124.9" lengthAdjust="spacingAndGlyphs"><tspan>Δ</tspan><tspan font-style="italic">x</tspan> = 2.5 μm</text>
<text x="437.4" y="805.6" font-size="21.5" textLength="105.6" lengthAdjust="spacingAndGlyphs"><tspan>Δ</tspan><tspan font-style="italic">x</tspan> = 3 μm</text>
<text x="1069.3" y="805.4" font-size="21.5" textLength="105.6" lengthAdjust="spacingAndGlyphs"><tspan>Δ</tspan><tspan font-style="italic">x</tspan> = 3 μm</text>
<text x="437.4" y="832.6" font-size="21.5" textLength="124.9" lengthAdjust="spacingAndGlyphs"><tspan>Δ</tspan><tspan font-style="italic">x</tspan> = 3.5 μm</text>
<text x="1069.3" y="832.4" font-size="21.5" textLength="124.9" lengthAdjust="spacingAndGlyphs"><tspan>Δ</tspan><tspan font-style="italic">x</tspan> = 3.5 μm</text>
<text x="88.3" y="651.1" font-size="23" text-anchor="end">10<tspan font-size="13" dy="-9">-2</tspan></text>
<text x="88.3" y="811.4" font-size="23" text-anchor="end">10<tspan font-size="13" dy="-9">-3</tspan></text>
<text x="88.3" y="971.7" font-size="23" text-anchor="end">10<tspan font-size="13" dy="-9">-4</tspan></text>
<text x="717.1" y="651.1" font-size="23" text-anchor="end">10<tspan font-size="13" dy="-9">-2</tspan></text>
<text x="717.1" y="811.4" font-size="23" text-anchor="end">10<tspan font-size="13" dy="-9">-3</tspan></text>
<text x="717.1" y="971.7" font-size="23" text-anchor="end">10<tspan font-size="13" dy="-9">-4</tspan></text>
<text x="111.0" y="1141.5" font-size="24.2" text-anchor="middle">0</text>
<text x="295.0" y="1141.5" font-size="24.2" text-anchor="middle">1</text>
<text x="479.0" y="1141.5" font-size="24.2" text-anchor="middle">2</text>
<text x="743.5" y="1141.5" font-size="24.2" text-anchor="middle">0</text>
<text x="927.0" y="1141.5" font-size="24.2" text-anchor="middle">1</text>
<text x="1111.5" y="1141.5" font-size="24.2" text-anchor="middle">2</text>
<text x="336.3" y="1180.0" font-size="27.7" text-anchor="middle" textLength="120.0" lengthAdjust="spacingAndGlyphs">Delay (μs)</text>
<text x="968.6" y="1180.0" font-size="27.7" text-anchor="middle" textLength="120.0" lengthAdjust="spacingAndGlyphs">Delay (μs)</text>
<text x="0" y="0" font-size="28.6" text-anchor="middle" textLength="262.0" lengthAdjust="spacingAndGlyphs" transform="translate(34.5,854.5) rotate(-90)">Circular dichroic signal</text>
<text x="0" y="0" font-size="28.6" text-anchor="middle" textLength="262.0" lengthAdjust="spacingAndGlyphs" transform="translate(664.5,854.5) rotate(-90)">Circular dichroic signal</text>
<text x="1357.8" y="1142.1" font-size="24.5" text-anchor="middle">0</text>
<text x="1463.5" y="1142.1" font-size="24.5" text-anchor="middle">0.5</text>
<text x="1569.1" y="1142.1" font-size="24.5" text-anchor="middle">1</text>
<text x="1674.8" y="1142.1" font-size="24.5" text-anchor="middle">1.5</text>
<text x="1780.4" y="1142.1" font-size="24.5" text-anchor="middle">2</text>
<text x="1886.0" y="1142.1" font-size="24.5" text-anchor="middle">2.5</text>
<text x="1991.7" y="1142.1" font-size="24.5" text-anchor="middle">3</text>
<text x="1353.5" y="1131.2" font-size="23" text-anchor="end">0</text>
<text x="1353.5" y="1034.4" font-size="23" text-anchor="end">0.01</text>
<text x="1353.5" y="937.7" font-size="23" text-anchor="end">0.02</text>
<text x="1353.5" y="840.9" font-size="23" text-anchor="end">0.03</text>
<text x="1353.5" y="744.2" font-size="23" text-anchor="end">0.04</text>
<text x="1353.5" y="647.4" font-size="23" text-anchor="end">0.05</text>
<text x="1356.3" y="632.0" font-size="23.5" text-anchor="middle">0</text>
<text x="1481.5" y="632.0" font-size="23.5" text-anchor="middle">1/3</text>
<text x="1607.2" y="632.0" font-size="23.5" text-anchor="middle">2/3</text>
<text x="1736.2" y="632.0" font-size="23.5" text-anchor="middle">1</text>
<text x="1861.8" y="632.0" font-size="23.5" text-anchor="middle">4/3</text>
<text x="1704.5" y="585.5" font-size="28.5" text-anchor="middle">p/p<tspan font-size="15.6" dy="8.5">0</tspan></text>
<text x="1722.0" y="1180.2" font-size="27.4" text-anchor="middle" textLength="361.0" lengthAdjust="spacingAndGlyphs">Hole concentration (10<tspan font-size="15" dy="-9.5">12</tspan><tspan dy="9.5"> cm</tspan><tspan font-size="15" dy="-9.5">-2</tspan><tspan dy="9.5">)</tspan></text>
<text x="0" y="0" font-size="27.8" text-anchor="middle" textLength="326.0" lengthAdjust="spacingAndGlyphs" transform="translate(1295.0,845.5) rotate(-90)">Diffusion constant (cm<tspan font-size="15" dy="-9.5">2</tspan><tspan dy="9.5"> s</tspan><tspan font-size="15" dy="-9.5">-1</tspan><tspan dy="9.5">)</tspan></text>
</svg>
</body></html>
